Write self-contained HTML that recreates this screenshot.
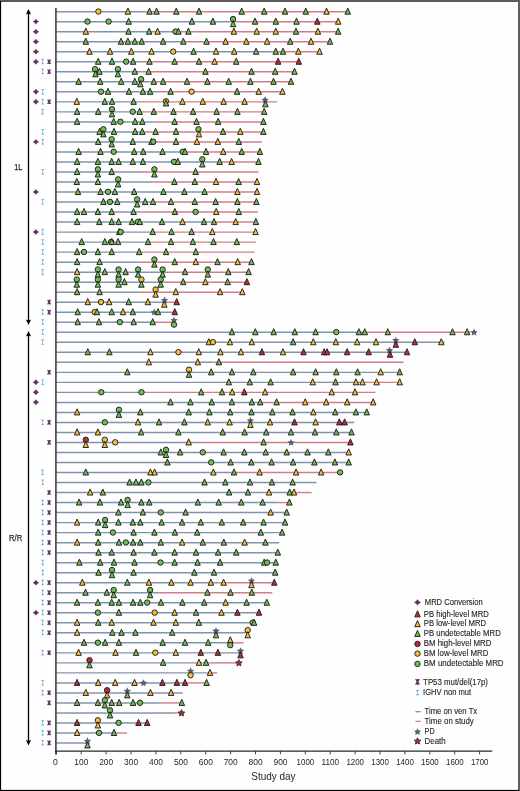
<!DOCTYPE html><html><head><meta charset="utf-8"><style>html,body{margin:0;padding:0;background:#fff;}body{width:520px;height:791px;overflow:hidden;}svg{display:block;will-change:transform;}text{font-family:"Liberation Sans",sans-serif;fill:#231f20;}</style></head><body>
<svg width="520" height="791" viewBox="0 0 520 791">
<rect x="0" y="0" width="520" height="791" fill="#fefefe"/>
<line x1="55.60" y1="11.70" x2="144.90" y2="11.70" stroke="#8294ad" stroke-width="1.45"/>
<line x1="144.90" y1="11.70" x2="347.80" y2="11.70" stroke="#cf7f8a" stroke-width="1.45"/>
<line x1="55.60" y1="21.72" x2="229.60" y2="21.72" stroke="#8294ad" stroke-width="1.45"/>
<line x1="229.60" y1="21.72" x2="338.20" y2="21.72" stroke="#cf7f8a" stroke-width="1.45"/>
<line x1="55.60" y1="31.74" x2="180.40" y2="31.74" stroke="#8294ad" stroke-width="1.45"/>
<line x1="180.40" y1="31.74" x2="338.20" y2="31.74" stroke="#cf7f8a" stroke-width="1.45"/>
<line x1="55.60" y1="41.75" x2="185.80" y2="41.75" stroke="#8294ad" stroke-width="1.45"/>
<line x1="185.80" y1="41.75" x2="330.00" y2="41.75" stroke="#cf7f8a" stroke-width="1.45"/>
<line x1="55.60" y1="51.77" x2="274.30" y2="51.77" stroke="#8294ad" stroke-width="1.45"/>
<line x1="274.30" y1="51.77" x2="319.50" y2="51.77" stroke="#cf7f8a" stroke-width="1.45"/>
<line x1="55.60" y1="61.79" x2="141.70" y2="61.79" stroke="#8294ad" stroke-width="1.45"/>
<line x1="141.70" y1="61.79" x2="300.30" y2="61.79" stroke="#cf7f8a" stroke-width="1.45"/>
<line x1="55.60" y1="71.81" x2="141.70" y2="71.81" stroke="#8294ad" stroke-width="1.45"/>
<line x1="141.70" y1="71.81" x2="296.00" y2="71.81" stroke="#cf7f8a" stroke-width="1.45"/>
<line x1="55.60" y1="81.83" x2="149.50" y2="81.83" stroke="#8294ad" stroke-width="1.45"/>
<line x1="149.50" y1="81.83" x2="293.00" y2="81.83" stroke="#cf7f8a" stroke-width="1.45"/>
<line x1="55.60" y1="91.84" x2="159.60" y2="91.84" stroke="#8294ad" stroke-width="1.45"/>
<line x1="159.60" y1="91.84" x2="284.40" y2="91.84" stroke="#cf7f8a" stroke-width="1.45"/>
<line x1="55.60" y1="101.86" x2="140.90" y2="101.86" stroke="#8294ad" stroke-width="1.45"/>
<line x1="140.90" y1="101.86" x2="277.20" y2="101.86" stroke="#cf7f8a" stroke-width="1.45"/>
<line x1="55.60" y1="111.88" x2="142.30" y2="111.88" stroke="#8294ad" stroke-width="1.45"/>
<line x1="142.30" y1="111.88" x2="264.20" y2="111.88" stroke="#cf7f8a" stroke-width="1.45"/>
<line x1="55.60" y1="121.90" x2="153.80" y2="121.90" stroke="#8294ad" stroke-width="1.45"/>
<line x1="153.80" y1="121.90" x2="263.40" y2="121.90" stroke="#cf7f8a" stroke-width="1.45"/>
<line x1="55.60" y1="131.92" x2="145.20" y2="131.92" stroke="#8294ad" stroke-width="1.45"/>
<line x1="145.20" y1="131.92" x2="263.40" y2="131.92" stroke="#cf7f8a" stroke-width="1.45"/>
<line x1="55.60" y1="141.93" x2="155.30" y2="141.93" stroke="#8294ad" stroke-width="1.45"/>
<line x1="155.30" y1="141.93" x2="261.90" y2="141.93" stroke="#cf7f8a" stroke-width="1.45"/>
<line x1="55.60" y1="151.95" x2="181.00" y2="151.95" stroke="#8294ad" stroke-width="1.45"/>
<line x1="181.00" y1="151.95" x2="259.90" y2="151.95" stroke="#cf7f8a" stroke-width="1.45"/>
<line x1="55.60" y1="161.97" x2="217.90" y2="161.97" stroke="#8294ad" stroke-width="1.45"/>
<line x1="217.90" y1="161.97" x2="258.50" y2="161.97" stroke="#cf7f8a" stroke-width="1.45"/>
<line x1="55.60" y1="171.99" x2="140.00" y2="171.99" stroke="#8294ad" stroke-width="1.45"/>
<line x1="140.00" y1="171.99" x2="258.50" y2="171.99" stroke="#cf7f8a" stroke-width="1.45"/>
<line x1="55.60" y1="182.01" x2="153.30" y2="182.01" stroke="#8294ad" stroke-width="1.45"/>
<line x1="153.30" y1="182.01" x2="257.00" y2="182.01" stroke="#cf7f8a" stroke-width="1.45"/>
<line x1="55.60" y1="192.02" x2="204.60" y2="192.02" stroke="#8294ad" stroke-width="1.45"/>
<line x1="204.60" y1="192.02" x2="257.00" y2="192.02" stroke="#cf7f8a" stroke-width="1.45"/>
<line x1="55.60" y1="202.04" x2="155.30" y2="202.04" stroke="#8294ad" stroke-width="1.45"/>
<line x1="155.30" y1="202.04" x2="256.40" y2="202.04" stroke="#cf7f8a" stroke-width="1.45"/>
<line x1="55.60" y1="212.06" x2="141.70" y2="212.06" stroke="#8294ad" stroke-width="1.45"/>
<line x1="141.70" y1="212.06" x2="257.90" y2="212.06" stroke="#cf7f8a" stroke-width="1.45"/>
<line x1="55.60" y1="222.08" x2="215.60" y2="222.08" stroke="#8294ad" stroke-width="1.45"/>
<line x1="215.60" y1="222.08" x2="255.90" y2="222.08" stroke="#cf7f8a" stroke-width="1.45"/>
<line x1="55.60" y1="232.10" x2="151.20" y2="232.10" stroke="#8294ad" stroke-width="1.45"/>
<line x1="151.20" y1="232.10" x2="255.60" y2="232.10" stroke="#cf7f8a" stroke-width="1.45"/>
<line x1="55.60" y1="242.11" x2="146.30" y2="242.11" stroke="#8294ad" stroke-width="1.45"/>
<line x1="146.30" y1="242.11" x2="256.10" y2="242.11" stroke="#cf7f8a" stroke-width="1.45"/>
<line x1="55.60" y1="252.13" x2="137.70" y2="252.13" stroke="#8294ad" stroke-width="1.45"/>
<line x1="137.70" y1="252.13" x2="254.70" y2="252.13" stroke="#cf7f8a" stroke-width="1.45"/>
<line x1="55.60" y1="262.15" x2="139.60" y2="262.15" stroke="#8294ad" stroke-width="1.45"/>
<line x1="139.60" y1="262.15" x2="251.50" y2="262.15" stroke="#cf7f8a" stroke-width="1.45"/>
<line x1="55.60" y1="272.17" x2="168.50" y2="272.17" stroke="#8294ad" stroke-width="1.45"/>
<line x1="168.50" y1="272.17" x2="248.60" y2="272.17" stroke="#cf7f8a" stroke-width="1.45"/>
<line x1="55.60" y1="282.19" x2="163.60" y2="282.19" stroke="#8294ad" stroke-width="1.45"/>
<line x1="163.60" y1="282.19" x2="246.90" y2="282.19" stroke="#cf7f8a" stroke-width="1.45"/>
<line x1="55.60" y1="292.20" x2="139.40" y2="292.20" stroke="#8294ad" stroke-width="1.45"/>
<line x1="139.40" y1="292.20" x2="242.30" y2="292.20" stroke="#cf7f8a" stroke-width="1.45"/>
<line x1="55.60" y1="302.22" x2="167.70" y2="302.22" stroke="#8294ad" stroke-width="1.45"/>
<line x1="167.70" y1="302.22" x2="176.70" y2="302.22" stroke="#cf7f8a" stroke-width="1.45"/>
<line x1="55.60" y1="312.24" x2="171.00" y2="312.24" stroke="#8294ad" stroke-width="1.45"/>
<line x1="171.00" y1="312.24" x2="174.80" y2="312.24" stroke="#cf7f8a" stroke-width="1.45"/>
<line x1="55.60" y1="322.26" x2="154.90" y2="322.26" stroke="#8294ad" stroke-width="1.45"/>
<line x1="154.90" y1="322.26" x2="173.90" y2="322.26" stroke="#cf7f8a" stroke-width="1.45"/>
<line x1="55.60" y1="332.28" x2="365.60" y2="332.28" stroke="#8294ad" stroke-width="1.45"/>
<line x1="365.60" y1="332.28" x2="470.30" y2="332.28" stroke="#cf7f8a" stroke-width="1.45"/>
<line x1="55.60" y1="342.29" x2="444.50" y2="342.29" stroke="#8294ad" stroke-width="1.45"/>
<line x1="55.60" y1="352.31" x2="406.80" y2="352.31" stroke="#8294ad" stroke-width="1.45"/>
<line x1="55.60" y1="362.33" x2="212.50" y2="362.33" stroke="#8294ad" stroke-width="1.45"/>
<line x1="212.50" y1="362.33" x2="403.50" y2="362.33" stroke="#cf7f8a" stroke-width="1.45"/>
<line x1="55.60" y1="372.35" x2="399.70" y2="372.35" stroke="#8294ad" stroke-width="1.45"/>
<line x1="55.60" y1="382.37" x2="364.50" y2="382.37" stroke="#8294ad" stroke-width="1.45"/>
<line x1="364.50" y1="382.37" x2="399.70" y2="382.37" stroke="#cf7f8a" stroke-width="1.45"/>
<line x1="55.60" y1="392.38" x2="144.40" y2="392.38" stroke="#8294ad" stroke-width="1.45"/>
<line x1="144.40" y1="392.38" x2="375.50" y2="392.38" stroke="#cf7f8a" stroke-width="1.45"/>
<line x1="55.60" y1="402.40" x2="262.80" y2="402.40" stroke="#8294ad" stroke-width="1.45"/>
<line x1="262.80" y1="402.40" x2="373.20" y2="402.40" stroke="#cf7f8a" stroke-width="1.45"/>
<line x1="55.60" y1="412.42" x2="366.80" y2="412.42" stroke="#8294ad" stroke-width="1.45"/>
<line x1="55.60" y1="422.44" x2="354.30" y2="422.44" stroke="#8294ad" stroke-width="1.45"/>
<line x1="55.60" y1="432.46" x2="351.50" y2="432.46" stroke="#8294ad" stroke-width="1.45"/>
<line x1="55.60" y1="442.47" x2="199.20" y2="442.47" stroke="#8294ad" stroke-width="1.45"/>
<line x1="199.20" y1="442.47" x2="350.40" y2="442.47" stroke="#cf7f8a" stroke-width="1.45"/>
<line x1="55.60" y1="452.49" x2="348.70" y2="452.49" stroke="#8294ad" stroke-width="1.45"/>
<line x1="55.60" y1="462.51" x2="348.70" y2="462.51" stroke="#8294ad" stroke-width="1.45"/>
<line x1="55.60" y1="472.53" x2="235.90" y2="472.53" stroke="#8294ad" stroke-width="1.45"/>
<line x1="235.90" y1="472.53" x2="340.10" y2="472.53" stroke="#cf7f8a" stroke-width="1.45"/>
<line x1="55.60" y1="482.55" x2="316.50" y2="482.55" stroke="#8294ad" stroke-width="1.45"/>
<line x1="55.60" y1="492.56" x2="295.10" y2="492.56" stroke="#8294ad" stroke-width="1.45"/>
<line x1="295.10" y1="492.56" x2="311.60" y2="492.56" stroke="#cf7f8a" stroke-width="1.45"/>
<line x1="55.60" y1="502.58" x2="278.20" y2="502.58" stroke="#8294ad" stroke-width="1.45"/>
<line x1="278.20" y1="502.58" x2="289.40" y2="502.58" stroke="#cf7f8a" stroke-width="1.45"/>
<line x1="55.60" y1="512.60" x2="286.70" y2="512.60" stroke="#8294ad" stroke-width="1.45"/>
<line x1="55.60" y1="522.62" x2="285.00" y2="522.62" stroke="#8294ad" stroke-width="1.45"/>
<line x1="55.60" y1="532.64" x2="282.10" y2="532.64" stroke="#8294ad" stroke-width="1.45"/>
<line x1="55.60" y1="542.65" x2="279.20" y2="542.65" stroke="#8294ad" stroke-width="1.45"/>
<line x1="55.60" y1="552.67" x2="277.80" y2="552.67" stroke="#8294ad" stroke-width="1.45"/>
<line x1="55.60" y1="562.69" x2="275.80" y2="562.69" stroke="#8294ad" stroke-width="1.45"/>
<line x1="55.60" y1="572.71" x2="275.20" y2="572.71" stroke="#8294ad" stroke-width="1.45"/>
<line x1="55.60" y1="582.73" x2="218.10" y2="582.73" stroke="#8294ad" stroke-width="1.45"/>
<line x1="218.10" y1="582.73" x2="274.30" y2="582.73" stroke="#cf7f8a" stroke-width="1.45"/>
<line x1="55.60" y1="592.74" x2="158.20" y2="592.74" stroke="#8294ad" stroke-width="1.45"/>
<line x1="158.20" y1="592.74" x2="272.30" y2="592.74" stroke="#cf7f8a" stroke-width="1.45"/>
<line x1="55.60" y1="602.76" x2="266.80" y2="602.76" stroke="#8294ad" stroke-width="1.45"/>
<line x1="55.60" y1="612.78" x2="259.00" y2="612.78" stroke="#8294ad" stroke-width="1.45"/>
<line x1="55.60" y1="622.80" x2="254.10" y2="622.80" stroke="#8294ad" stroke-width="1.45"/>
<line x1="55.60" y1="632.82" x2="247.70" y2="632.82" stroke="#8294ad" stroke-width="1.45"/>
<line x1="55.60" y1="642.83" x2="234.20" y2="642.83" stroke="#8294ad" stroke-width="1.45"/>
<line x1="234.20" y1="642.83" x2="243.70" y2="642.83" stroke="#cf7f8a" stroke-width="1.45"/>
<line x1="55.60" y1="652.85" x2="240.50" y2="652.85" stroke="#8294ad" stroke-width="1.45"/>
<line x1="55.60" y1="662.87" x2="210.30" y2="662.87" stroke="#8294ad" stroke-width="1.45"/>
<line x1="210.30" y1="662.87" x2="238.90" y2="662.87" stroke="#cf7f8a" stroke-width="1.45"/>
<line x1="55.60" y1="672.89" x2="211.30" y2="672.89" stroke="#8294ad" stroke-width="1.45"/>
<line x1="211.30" y1="672.89" x2="217.30" y2="672.89" stroke="#cf7f8a" stroke-width="1.45"/>
<line x1="55.60" y1="682.91" x2="187.00" y2="682.91" stroke="#8294ad" stroke-width="1.45"/>
<line x1="187.00" y1="682.91" x2="206.60" y2="682.91" stroke="#cf7f8a" stroke-width="1.45"/>
<line x1="55.60" y1="692.92" x2="182.70" y2="692.92" stroke="#8294ad" stroke-width="1.45"/>
<line x1="55.60" y1="702.94" x2="159.60" y2="702.94" stroke="#8294ad" stroke-width="1.45"/>
<line x1="159.60" y1="702.94" x2="181.80" y2="702.94" stroke="#cf7f8a" stroke-width="1.45"/>
<line x1="55.60" y1="712.96" x2="174.10" y2="712.96" stroke="#8294ad" stroke-width="1.45"/>
<line x1="174.10" y1="712.96" x2="181.50" y2="712.96" stroke="#cf7f8a" stroke-width="1.45"/>
<line x1="55.60" y1="722.98" x2="147.20" y2="722.98" stroke="#8294ad" stroke-width="1.45"/>
<line x1="55.60" y1="733.00" x2="116.30" y2="733.00" stroke="#8294ad" stroke-width="1.45"/>
<line x1="116.30" y1="733.00" x2="127.00" y2="733.00" stroke="#cf7f8a" stroke-width="1.45"/>
<line x1="55.60" y1="743.01" x2="87.50" y2="743.01" stroke="#8294ad" stroke-width="1.45"/>
<circle cx="98.40" cy="11.55" r="2.72" fill="#f5bd35" stroke="#1e1e1e" stroke-width="0.95"/>
<path d="M127.90 8.10L130.65 14.20L125.15 14.20Z" fill="#f5bd35" stroke="#1e1e1e" stroke-width="0.95" stroke-linejoin="miter"/>
<path d="M149.50 8.10L152.25 14.20L146.75 14.20Z" fill="#71bc55" stroke="#1e1e1e" stroke-width="0.95" stroke-linejoin="miter"/>
<path d="M156.50 8.10L159.25 14.20L153.75 14.20Z" fill="#71bc55" stroke="#1e1e1e" stroke-width="0.95" stroke-linejoin="miter"/>
<path d="M176.30 8.10L179.05 14.20L173.55 14.20Z" fill="#71bc55" stroke="#1e1e1e" stroke-width="0.95" stroke-linejoin="miter"/>
<path d="M199.00 8.10L201.75 14.20L196.25 14.20Z" fill="#71bc55" stroke="#1e1e1e" stroke-width="0.95" stroke-linejoin="miter"/>
<path d="M241.70 8.10L244.45 14.20L238.95 14.20Z" fill="#71bc55" stroke="#1e1e1e" stroke-width="0.95" stroke-linejoin="miter"/>
<path d="M264.20 8.10L266.95 14.20L261.45 14.20Z" fill="#71bc55" stroke="#1e1e1e" stroke-width="0.95" stroke-linejoin="miter"/>
<path d="M285.00 8.10L287.75 14.20L282.25 14.20Z" fill="#71bc55" stroke="#1e1e1e" stroke-width="0.95" stroke-linejoin="miter"/>
<path d="M305.80 8.10L308.55 14.20L303.05 14.20Z" fill="#71bc55" stroke="#1e1e1e" stroke-width="0.95" stroke-linejoin="miter"/>
<path d="M326.50 8.10L329.25 14.20L323.75 14.20Z" fill="#f5bd35" stroke="#1e1e1e" stroke-width="0.95" stroke-linejoin="miter"/>
<path d="M347.80 8.10L350.55 14.20L345.05 14.20Z" fill="#71bc55" stroke="#1e1e1e" stroke-width="0.95" stroke-linejoin="miter"/>
<circle cx="87.50" cy="21.57" r="2.72" fill="#71bc55" stroke="#1e1e1e" stroke-width="0.95"/>
<circle cx="108.60" cy="21.57" r="2.72" fill="#71bc55" stroke="#1e1e1e" stroke-width="0.95"/>
<path d="M128.70 18.12L131.45 24.22L125.95 24.22Z" fill="#71bc55" stroke="#1e1e1e" stroke-width="0.95" stroke-linejoin="miter"/>
<path d="M191.90 18.12L194.65 24.22L189.15 24.22Z" fill="#71bc55" stroke="#1e1e1e" stroke-width="0.95" stroke-linejoin="miter"/>
<path d="M212.90 18.12L215.65 24.22L210.15 24.22Z" fill="#71bc55" stroke="#1e1e1e" stroke-width="0.95" stroke-linejoin="miter"/>
<circle cx="233.10" cy="19.07" r="2.72" fill="#71bc55" stroke="#1e1e1e" stroke-width="0.95"/>
<path d="M233.10 20.62L235.85 26.72L230.35 26.72Z" fill="#71bc55" stroke="#1e1e1e" stroke-width="0.95" stroke-linejoin="miter"/>
<path d="M255.00 18.12L257.75 24.22L252.25 24.22Z" fill="#71bc55" stroke="#1e1e1e" stroke-width="0.95" stroke-linejoin="miter"/>
<path d="M275.80 18.12L278.55 24.22L273.05 24.22Z" fill="#71bc55" stroke="#1e1e1e" stroke-width="0.95" stroke-linejoin="miter"/>
<path d="M296.50 18.12L299.25 24.22L293.75 24.22Z" fill="#71bc55" stroke="#1e1e1e" stroke-width="0.95" stroke-linejoin="miter"/>
<path d="M317.30 18.12L320.05 24.22L314.55 24.22Z" fill="#bf283e" stroke="#1e1e1e" stroke-width="0.95" stroke-linejoin="miter"/>
<path d="M338.20 18.12L340.95 24.22L335.45 24.22Z" fill="#f5bd35" stroke="#1e1e1e" stroke-width="0.95" stroke-linejoin="miter"/>
<path d="M35.90 18.67Q36.85 20.67 39.10 21.62Q36.85 22.57 35.90 24.56Q34.95 22.57 32.70 21.62Q34.95 20.67 35.90 18.67Z" fill="#5f3263"/>
<path d="M85.80 28.14L88.55 34.24L83.05 34.24Z" fill="#f5bd35" stroke="#1e1e1e" stroke-width="0.95" stroke-linejoin="miter"/>
<path d="M128.50 28.14L131.25 34.24L125.75 34.24Z" fill="#71bc55" stroke="#1e1e1e" stroke-width="0.95" stroke-linejoin="miter"/>
<path d="M149.20 28.14L151.95 34.24L146.45 34.24Z" fill="#71bc55" stroke="#1e1e1e" stroke-width="0.95" stroke-linejoin="miter"/>
<path d="M157.60 28.14L160.35 34.24L154.85 34.24Z" fill="#f5bd35" stroke="#1e1e1e" stroke-width="0.95" stroke-linejoin="miter"/>
<circle cx="175.50" cy="31.59" r="2.72" fill="#71bc55" stroke="#1e1e1e" stroke-width="0.95"/>
<path d="M178.40 28.14L181.15 34.24L175.65 34.24Z" fill="#71bc55" stroke="#1e1e1e" stroke-width="0.95" stroke-linejoin="miter"/>
<path d="M188.40 28.14L191.15 34.24L185.65 34.24Z" fill="#71bc55" stroke="#1e1e1e" stroke-width="0.95" stroke-linejoin="miter"/>
<path d="M233.90 28.14L236.65 34.24L231.15 34.24Z" fill="#f5bd35" stroke="#1e1e1e" stroke-width="0.95" stroke-linejoin="miter"/>
<path d="M256.70 28.14L259.45 34.24L253.95 34.24Z" fill="#f5bd35" stroke="#1e1e1e" stroke-width="0.95" stroke-linejoin="miter"/>
<path d="M275.80 28.14L278.55 34.24L273.05 34.24Z" fill="#f5bd35" stroke="#1e1e1e" stroke-width="0.95" stroke-linejoin="miter"/>
<path d="M296.00 28.14L298.75 34.24L293.25 34.24Z" fill="#71bc55" stroke="#1e1e1e" stroke-width="0.95" stroke-linejoin="miter"/>
<path d="M317.90 28.14L320.65 34.24L315.15 34.24Z" fill="#f5bd35" stroke="#1e1e1e" stroke-width="0.95" stroke-linejoin="miter"/>
<path d="M338.20 28.14L340.95 34.24L335.45 34.24Z" fill="#71bc55" stroke="#1e1e1e" stroke-width="0.95" stroke-linejoin="miter"/>
<path d="M35.90 28.69Q36.85 30.69 39.10 31.64Q36.85 32.59 35.90 34.58Q34.95 32.59 32.70 31.64Q34.95 30.69 35.90 28.69Z" fill="#5f3263"/>
<path d="M85.80 38.15L88.55 44.25L83.05 44.25Z" fill="#71bc55" stroke="#1e1e1e" stroke-width="0.95" stroke-linejoin="miter"/>
<path d="M121.00 38.15L123.75 44.25L118.25 44.25Z" fill="#71bc55" stroke="#1e1e1e" stroke-width="0.95" stroke-linejoin="miter"/>
<path d="M127.90 38.15L130.65 44.25L125.15 44.25Z" fill="#71bc55" stroke="#1e1e1e" stroke-width="0.95" stroke-linejoin="miter"/>
<path d="M134.80 38.15L137.55 44.25L132.05 44.25Z" fill="#71bc55" stroke="#1e1e1e" stroke-width="0.95" stroke-linejoin="miter"/>
<path d="M141.70 38.15L144.45 44.25L138.95 44.25Z" fill="#71bc55" stroke="#1e1e1e" stroke-width="0.95" stroke-linejoin="miter"/>
<path d="M163.10 38.15L165.85 44.25L160.35 44.25Z" fill="#71bc55" stroke="#1e1e1e" stroke-width="0.95" stroke-linejoin="miter"/>
<path d="M183.30 38.15L186.05 44.25L180.55 44.25Z" fill="#71bc55" stroke="#1e1e1e" stroke-width="0.95" stroke-linejoin="miter"/>
<path d="M206.50 38.15L209.25 44.25L203.75 44.25Z" fill="#71bc55" stroke="#1e1e1e" stroke-width="0.95" stroke-linejoin="miter"/>
<path d="M225.60 38.15L228.35 44.25L222.85 44.25Z" fill="#f5bd35" stroke="#1e1e1e" stroke-width="0.95" stroke-linejoin="miter"/>
<path d="M246.30 38.15L249.05 44.25L243.55 44.25Z" fill="#f5bd35" stroke="#1e1e1e" stroke-width="0.95" stroke-linejoin="miter"/>
<path d="M267.10 38.15L269.85 44.25L264.35 44.25Z" fill="#f5bd35" stroke="#1e1e1e" stroke-width="0.95" stroke-linejoin="miter"/>
<path d="M290.20 38.15L292.95 44.25L287.45 44.25Z" fill="#71bc55" stroke="#1e1e1e" stroke-width="0.95" stroke-linejoin="miter"/>
<path d="M311.00 38.15L313.75 44.25L308.25 44.25Z" fill="#f5bd35" stroke="#1e1e1e" stroke-width="0.95" stroke-linejoin="miter"/>
<path d="M330.00 38.15L332.75 44.25L327.25 44.25Z" fill="#71bc55" stroke="#1e1e1e" stroke-width="0.95" stroke-linejoin="miter"/>
<path d="M35.90 38.71Q36.85 40.70 39.10 41.65Q36.85 42.60 35.90 44.60Q34.95 42.60 32.70 41.65Q34.95 40.70 35.90 38.71Z" fill="#5f3263"/>
<path d="M89.50 48.17L92.25 54.27L86.75 54.27Z" fill="#f5bd35" stroke="#1e1e1e" stroke-width="0.95" stroke-linejoin="miter"/>
<path d="M110.00 48.17L112.75 54.27L107.25 54.27Z" fill="#f5bd35" stroke="#1e1e1e" stroke-width="0.95" stroke-linejoin="miter"/>
<path d="M131.30 48.17L134.05 54.27L128.55 54.27Z" fill="#f5bd35" stroke="#1e1e1e" stroke-width="0.95" stroke-linejoin="miter"/>
<path d="M151.50 48.17L154.25 54.27L148.75 54.27Z" fill="#f5bd35" stroke="#1e1e1e" stroke-width="0.95" stroke-linejoin="miter"/>
<circle cx="173.20" cy="51.62" r="2.72" fill="#f5bd35" stroke="#1e1e1e" stroke-width="0.95"/>
<path d="M193.60 48.17L196.35 54.27L190.85 54.27Z" fill="#71bc55" stroke="#1e1e1e" stroke-width="0.95" stroke-linejoin="miter"/>
<path d="M216.00 48.17L218.75 54.27L213.25 54.27Z" fill="#f5bd35" stroke="#1e1e1e" stroke-width="0.95" stroke-linejoin="miter"/>
<path d="M234.20 48.17L236.95 54.27L231.45 54.27Z" fill="#f5bd35" stroke="#1e1e1e" stroke-width="0.95" stroke-linejoin="miter"/>
<path d="M256.10 48.17L258.85 54.27L253.35 54.27Z" fill="#71bc55" stroke="#1e1e1e" stroke-width="0.95" stroke-linejoin="miter"/>
<path d="M275.80 48.17L278.55 54.27L273.05 54.27Z" fill="#71bc55" stroke="#1e1e1e" stroke-width="0.95" stroke-linejoin="miter"/>
<path d="M283.00 48.17L285.75 54.27L280.25 54.27Z" fill="#71bc55" stroke="#1e1e1e" stroke-width="0.95" stroke-linejoin="miter"/>
<path d="M298.30 48.17L301.05 54.27L295.55 54.27Z" fill="#f5bd35" stroke="#1e1e1e" stroke-width="0.95" stroke-linejoin="miter"/>
<path d="M319.50 48.17L322.25 54.27L316.75 54.27Z" fill="#f5bd35" stroke="#1e1e1e" stroke-width="0.95" stroke-linejoin="miter"/>
<path d="M35.90 48.73Q36.85 50.72 39.10 51.67Q36.85 52.62 35.90 54.62Q34.95 52.62 32.70 51.67Q34.95 50.72 35.90 48.73Z" fill="#5f3263"/>
<path d="M98.20 58.19L100.95 64.29L95.45 64.29Z" fill="#71bc55" stroke="#1e1e1e" stroke-width="0.95" stroke-linejoin="miter"/>
<path d="M112.00 58.19L114.75 64.29L109.25 64.29Z" fill="#71bc55" stroke="#1e1e1e" stroke-width="0.95" stroke-linejoin="miter"/>
<circle cx="126.10" cy="61.64" r="2.72" fill="#71bc55" stroke="#1e1e1e" stroke-width="0.95"/>
<path d="M133.10 58.19L135.85 64.29L130.35 64.29Z" fill="#71bc55" stroke="#1e1e1e" stroke-width="0.95" stroke-linejoin="miter"/>
<path d="M149.50 58.19L152.25 64.29L146.75 64.29Z" fill="#71bc55" stroke="#1e1e1e" stroke-width="0.95" stroke-linejoin="miter"/>
<path d="M174.60 58.19L177.35 64.29L171.85 64.29Z" fill="#71bc55" stroke="#1e1e1e" stroke-width="0.95" stroke-linejoin="miter"/>
<path d="M199.00 58.19L201.75 64.29L196.25 64.29Z" fill="#71bc55" stroke="#1e1e1e" stroke-width="0.95" stroke-linejoin="miter"/>
<path d="M214.60 58.19L217.35 64.29L211.85 64.29Z" fill="#f5bd35" stroke="#1e1e1e" stroke-width="0.95" stroke-linejoin="miter"/>
<path d="M236.20 58.19L238.95 64.29L233.45 64.29Z" fill="#71bc55" stroke="#1e1e1e" stroke-width="0.95" stroke-linejoin="miter"/>
<path d="M278.10 58.19L280.85 64.29L275.35 64.29Z" fill="#bf283e" stroke="#1e1e1e" stroke-width="0.95" stroke-linejoin="miter"/>
<path d="M298.80 58.19L301.55 64.29L296.05 64.29Z" fill="#bf283e" stroke="#1e1e1e" stroke-width="0.95" stroke-linejoin="miter"/>
<path d="M35.90 58.75Q36.85 60.74 39.10 61.69Q36.85 62.64 35.90 64.63Q34.95 62.64 32.70 61.69Q34.95 60.74 35.90 58.75Z" fill="#5f3263"/>
<path d="M41.40 58.84H44.00V59.59Q43.06 59.59 43.06 60.54V62.64Q43.06 63.59 44.00 63.59V64.34H41.40V63.59Q42.34 63.59 42.34 62.64V60.54Q42.34 59.59 41.40 59.59Z" fill="#6aaddf"/>
<path d="M47.00 59.39L48.37 59.64L49.10 59.19L49.84 59.64L51.20 59.39L50.05 61.69L51.20 63.99L49.84 63.74L49.10 64.19L48.37 63.74L47.00 63.99L48.15 61.69Z" fill="#633767"/>
<circle cx="95.10" cy="69.16" r="2.72" fill="#71bc55" stroke="#1e1e1e" stroke-width="0.95"/>
<path d="M95.50 70.71L98.25 76.81L92.75 76.81Z" fill="#71bc55" stroke="#1e1e1e" stroke-width="0.95" stroke-linejoin="miter"/>
<path d="M99.40 68.21L102.15 74.31L96.65 74.31Z" fill="#71bc55" stroke="#1e1e1e" stroke-width="0.95" stroke-linejoin="miter"/>
<circle cx="117.90" cy="69.16" r="2.72" fill="#71bc55" stroke="#1e1e1e" stroke-width="0.95"/>
<path d="M117.90 70.71L120.65 76.81L115.15 76.81Z" fill="#71bc55" stroke="#1e1e1e" stroke-width="0.95" stroke-linejoin="miter"/>
<path d="M134.80 68.21L137.55 74.31L132.05 74.31Z" fill="#71bc55" stroke="#1e1e1e" stroke-width="0.95" stroke-linejoin="miter"/>
<path d="M148.60 68.21L151.35 74.31L145.85 74.31Z" fill="#71bc55" stroke="#1e1e1e" stroke-width="0.95" stroke-linejoin="miter"/>
<path d="M205.40 68.21L208.15 74.31L202.65 74.31Z" fill="#71bc55" stroke="#1e1e1e" stroke-width="0.95" stroke-linejoin="miter"/>
<path d="M251.50 68.21L254.25 74.31L248.75 74.31Z" fill="#71bc55" stroke="#1e1e1e" stroke-width="0.95" stroke-linejoin="miter"/>
<path d="M275.20 68.21L277.95 74.31L272.45 74.31Z" fill="#71bc55" stroke="#1e1e1e" stroke-width="0.95" stroke-linejoin="miter"/>
<path d="M294.50 68.21L297.25 74.31L291.75 74.31Z" fill="#71bc55" stroke="#1e1e1e" stroke-width="0.95" stroke-linejoin="miter"/>
<path d="M41.40 68.86H44.00V69.61Q43.06 69.61 43.06 70.56V72.66Q43.06 73.61 44.00 73.61V74.36H41.40V73.61Q42.34 73.61 42.34 72.66V70.56Q42.34 69.61 41.40 69.61Z" fill="#6aaddf"/>
<path d="M47.00 69.41L48.37 69.66L49.10 69.21L49.84 69.66L51.20 69.41L50.05 71.71L51.20 74.01L49.84 73.76L49.10 74.21L48.37 73.76L47.00 74.01L48.15 71.71Z" fill="#633767"/>
<path d="M78.60 78.23L81.35 84.33L75.85 84.33Z" fill="#71bc55" stroke="#1e1e1e" stroke-width="0.95" stroke-linejoin="miter"/>
<path d="M100.20 78.23L102.95 84.33L97.45 84.33Z" fill="#71bc55" stroke="#1e1e1e" stroke-width="0.95" stroke-linejoin="miter"/>
<path d="M121.20 78.23L123.95 84.33L118.45 84.33Z" fill="#71bc55" stroke="#1e1e1e" stroke-width="0.95" stroke-linejoin="miter"/>
<path d="M134.80 78.23L137.55 84.33L132.05 84.33Z" fill="#71bc55" stroke="#1e1e1e" stroke-width="0.95" stroke-linejoin="miter"/>
<circle cx="141.10" cy="79.18" r="2.72" fill="#71bc55" stroke="#1e1e1e" stroke-width="0.95"/>
<path d="M140.30 80.73L143.05 86.83L137.55 86.83Z" fill="#71bc55" stroke="#1e1e1e" stroke-width="0.95" stroke-linejoin="miter"/>
<path d="M153.80 78.23L156.55 84.33L151.05 84.33Z" fill="#71bc55" stroke="#1e1e1e" stroke-width="0.95" stroke-linejoin="miter"/>
<path d="M163.10 78.23L165.85 84.33L160.35 84.33Z" fill="#71bc55" stroke="#1e1e1e" stroke-width="0.95" stroke-linejoin="miter"/>
<path d="M187.00 78.23L189.75 84.33L184.25 84.33Z" fill="#71bc55" stroke="#1e1e1e" stroke-width="0.95" stroke-linejoin="miter"/>
<path d="M207.40 78.23L210.15 84.33L204.65 84.33Z" fill="#71bc55" stroke="#1e1e1e" stroke-width="0.95" stroke-linejoin="miter"/>
<path d="M228.70 78.23L231.45 84.33L225.95 84.33Z" fill="#71bc55" stroke="#1e1e1e" stroke-width="0.95" stroke-linejoin="miter"/>
<path d="M250.40 78.23L253.15 84.33L247.65 84.33Z" fill="#71bc55" stroke="#1e1e1e" stroke-width="0.95" stroke-linejoin="miter"/>
<path d="M273.50 78.23L276.25 84.33L270.75 84.33Z" fill="#71bc55" stroke="#1e1e1e" stroke-width="0.95" stroke-linejoin="miter"/>
<path d="M291.00 78.23L293.75 84.33L288.25 84.33Z" fill="#71bc55" stroke="#1e1e1e" stroke-width="0.95" stroke-linejoin="miter"/>
<circle cx="101.00" cy="91.69" r="2.72" fill="#71bc55" stroke="#1e1e1e" stroke-width="0.95"/>
<path d="M108.00 88.24L110.75 94.34L105.25 94.34Z" fill="#71bc55" stroke="#1e1e1e" stroke-width="0.95" stroke-linejoin="miter"/>
<path d="M129.00 88.24L131.75 94.34L126.25 94.34Z" fill="#71bc55" stroke="#1e1e1e" stroke-width="0.95" stroke-linejoin="miter"/>
<path d="M142.90 88.24L145.65 94.34L140.15 94.34Z" fill="#71bc55" stroke="#1e1e1e" stroke-width="0.95" stroke-linejoin="miter"/>
<path d="M150.10 88.24L152.85 94.34L147.35 94.34Z" fill="#71bc55" stroke="#1e1e1e" stroke-width="0.95" stroke-linejoin="miter"/>
<path d="M170.60 88.24L173.35 94.34L167.85 94.34Z" fill="#71bc55" stroke="#1e1e1e" stroke-width="0.95" stroke-linejoin="miter"/>
<circle cx="191.60" cy="91.69" r="2.72" fill="#f5bd35" stroke="#1e1e1e" stroke-width="0.95"/>
<path d="M237.10 88.24L239.85 94.34L234.35 94.34Z" fill="#71bc55" stroke="#1e1e1e" stroke-width="0.95" stroke-linejoin="miter"/>
<path d="M258.70 88.24L261.45 94.34L255.95 94.34Z" fill="#f5bd35" stroke="#1e1e1e" stroke-width="0.95" stroke-linejoin="miter"/>
<path d="M282.40 88.24L285.15 94.34L279.65 94.34Z" fill="#f5bd35" stroke="#1e1e1e" stroke-width="0.95" stroke-linejoin="miter"/>
<path d="M35.90 88.80Q36.85 90.79 39.10 91.74Q36.85 92.69 35.90 94.69Q34.95 92.69 32.70 91.74Q34.95 90.79 35.90 88.80Z" fill="#5f3263"/>
<path d="M41.40 88.89H44.00V89.64Q43.06 89.64 43.06 90.59V92.69Q43.06 93.64 44.00 93.64V94.39H41.40V93.64Q42.34 93.64 42.34 92.69V90.59Q42.34 89.64 41.40 89.64Z" fill="#6aaddf"/>
<path d="M76.80 98.26L79.55 104.36L74.05 104.36Z" fill="#f5bd35" stroke="#1e1e1e" stroke-width="0.95" stroke-linejoin="miter"/>
<path d="M104.80 98.26L107.55 104.36L102.05 104.36Z" fill="#71bc55" stroke="#1e1e1e" stroke-width="0.95" stroke-linejoin="miter"/>
<path d="M112.00 98.26L114.75 104.36L109.25 104.36Z" fill="#71bc55" stroke="#1e1e1e" stroke-width="0.95" stroke-linejoin="miter"/>
<path d="M133.60 98.26L136.35 104.36L130.85 104.36Z" fill="#71bc55" stroke="#1e1e1e" stroke-width="0.95" stroke-linejoin="miter"/>
<circle cx="166.00" cy="101.31" r="2.72" fill="#f5bd35" stroke="#1e1e1e" stroke-width="0.95"/>
<path d="M166.00 99.86L168.75 105.96L163.25 105.96Z" fill="#71bc55" stroke="#1e1e1e" stroke-width="0.95" stroke-linejoin="miter"/>
<path d="M182.40 98.26L185.15 104.36L179.65 104.36Z" fill="#f5bd35" stroke="#1e1e1e" stroke-width="0.95" stroke-linejoin="miter"/>
<path d="M202.80 98.26L205.55 104.36L200.05 104.36Z" fill="#f5bd35" stroke="#1e1e1e" stroke-width="0.95" stroke-linejoin="miter"/>
<path d="M223.60 98.26L226.35 104.36L220.85 104.36Z" fill="#f5bd35" stroke="#1e1e1e" stroke-width="0.95" stroke-linejoin="miter"/>
<path d="M244.60 98.26L247.35 104.36L241.85 104.36Z" fill="#f5bd35" stroke="#1e1e1e" stroke-width="0.95" stroke-linejoin="miter"/>
<polygon points="265.10,96.21 266.19,98.62 268.81,98.91 266.86,100.68 267.39,103.27 265.10,101.96 262.81,103.27 263.34,100.68 261.39,98.91 264.01,98.62" fill="#585e6f"/>
<path d="M265.40 100.76L268.15 106.86L262.65 106.86Z" fill="#71bc55" stroke="#1e1e1e" stroke-width="0.95" stroke-linejoin="miter"/>
<path d="M35.90 98.82Q36.85 100.81 39.10 101.76Q36.85 102.71 35.90 104.71Q34.95 102.71 32.70 101.76Q34.95 100.81 35.90 98.82Z" fill="#5f3263"/>
<path d="M41.40 98.91H44.00V99.66Q43.06 99.66 43.06 100.61V102.71Q43.06 103.66 44.00 103.66V104.41H41.40V103.66Q42.34 103.66 42.34 102.71V100.61Q42.34 99.66 41.40 99.66Z" fill="#6aaddf"/>
<path d="M47.00 99.46L48.37 99.71L49.10 99.26L49.84 99.71L51.20 99.46L50.05 101.76L51.20 104.06L49.84 103.81L49.10 104.26L48.37 103.81L47.00 104.06L48.15 101.76Z" fill="#633767"/>
<path d="M77.10 108.28L79.85 114.38L74.35 114.38Z" fill="#71bc55" stroke="#1e1e1e" stroke-width="0.95" stroke-linejoin="miter"/>
<path d="M98.20 108.28L100.95 114.38L95.45 114.38Z" fill="#71bc55" stroke="#1e1e1e" stroke-width="0.95" stroke-linejoin="miter"/>
<circle cx="112.00" cy="109.23" r="2.72" fill="#71bc55" stroke="#1e1e1e" stroke-width="0.95"/>
<path d="M112.00 110.78L114.75 116.88L109.25 116.88Z" fill="#71bc55" stroke="#1e1e1e" stroke-width="0.95" stroke-linejoin="miter"/>
<circle cx="132.80" cy="111.73" r="2.72" fill="#71bc55" stroke="#1e1e1e" stroke-width="0.95"/>
<path d="M139.70 108.28L142.45 114.38L136.95 114.38Z" fill="#71bc55" stroke="#1e1e1e" stroke-width="0.95" stroke-linejoin="miter"/>
<path d="M153.80 108.28L156.55 114.38L151.05 114.38Z" fill="#71bc55" stroke="#1e1e1e" stroke-width="0.95" stroke-linejoin="miter"/>
<path d="M173.50 108.28L176.25 114.38L170.75 114.38Z" fill="#71bc55" stroke="#1e1e1e" stroke-width="0.95" stroke-linejoin="miter"/>
<path d="M193.10 108.28L195.85 114.38L190.35 114.38Z" fill="#71bc55" stroke="#1e1e1e" stroke-width="0.95" stroke-linejoin="miter"/>
<path d="M216.60 108.28L219.35 114.38L213.85 114.38Z" fill="#71bc55" stroke="#1e1e1e" stroke-width="0.95" stroke-linejoin="miter"/>
<path d="M237.40 108.28L240.15 114.38L234.65 114.38Z" fill="#71bc55" stroke="#1e1e1e" stroke-width="0.95" stroke-linejoin="miter"/>
<path d="M264.20 108.28L266.95 114.38L261.45 114.38Z" fill="#71bc55" stroke="#1e1e1e" stroke-width="0.95" stroke-linejoin="miter"/>
<path d="M41.40 108.93H44.00V109.68Q43.06 109.68 43.06 110.63V112.73Q43.06 113.68 44.00 113.68V114.43H41.40V113.68Q42.34 113.68 42.34 112.73V110.63Q42.34 109.68 41.40 109.68Z" fill="#6aaddf"/>
<path d="M77.10 118.30L79.85 124.40L74.35 124.40Z" fill="#71bc55" stroke="#1e1e1e" stroke-width="0.95" stroke-linejoin="miter"/>
<path d="M113.70 118.30L116.45 124.40L110.95 124.40Z" fill="#71bc55" stroke="#1e1e1e" stroke-width="0.95" stroke-linejoin="miter"/>
<circle cx="120.40" cy="121.75" r="2.72" fill="#71bc55" stroke="#1e1e1e" stroke-width="0.95"/>
<path d="M135.10 118.30L137.85 124.40L132.35 124.40Z" fill="#71bc55" stroke="#1e1e1e" stroke-width="0.95" stroke-linejoin="miter"/>
<path d="M142.30 118.30L145.05 124.40L139.55 124.40Z" fill="#71bc55" stroke="#1e1e1e" stroke-width="0.95" stroke-linejoin="miter"/>
<path d="M174.60 118.30L177.35 124.40L171.85 124.40Z" fill="#71bc55" stroke="#1e1e1e" stroke-width="0.95" stroke-linejoin="miter"/>
<path d="M196.50 118.30L199.25 124.40L193.75 124.40Z" fill="#71bc55" stroke="#1e1e1e" stroke-width="0.95" stroke-linejoin="miter"/>
<path d="M218.10 118.30L220.85 124.40L215.35 124.40Z" fill="#71bc55" stroke="#1e1e1e" stroke-width="0.95" stroke-linejoin="miter"/>
<path d="M263.40 118.30L266.15 124.40L260.65 124.40Z" fill="#71bc55" stroke="#1e1e1e" stroke-width="0.95" stroke-linejoin="miter"/>
<path d="M99.60 128.32L102.35 134.42L96.85 134.42Z" fill="#71bc55" stroke="#1e1e1e" stroke-width="0.95" stroke-linejoin="miter"/>
<circle cx="103.40" cy="129.27" r="2.72" fill="#71bc55" stroke="#1e1e1e" stroke-width="0.95"/>
<path d="M103.40 130.82L106.15 136.92L100.65 136.92Z" fill="#71bc55" stroke="#1e1e1e" stroke-width="0.95" stroke-linejoin="miter"/>
<path d="M114.00 128.32L116.75 134.42L111.25 134.42Z" fill="#71bc55" stroke="#1e1e1e" stroke-width="0.95" stroke-linejoin="miter"/>
<path d="M135.10 128.32L137.85 134.42L132.35 134.42Z" fill="#71bc55" stroke="#1e1e1e" stroke-width="0.95" stroke-linejoin="miter"/>
<path d="M142.30 128.32L145.05 134.42L139.55 134.42Z" fill="#71bc55" stroke="#1e1e1e" stroke-width="0.95" stroke-linejoin="miter"/>
<path d="M155.60 128.32L158.35 134.42L152.85 134.42Z" fill="#71bc55" stroke="#1e1e1e" stroke-width="0.95" stroke-linejoin="miter"/>
<path d="M176.00 128.32L178.75 134.42L173.25 134.42Z" fill="#71bc55" stroke="#1e1e1e" stroke-width="0.95" stroke-linejoin="miter"/>
<circle cx="198.50" cy="129.27" r="2.72" fill="#71bc55" stroke="#1e1e1e" stroke-width="0.95"/>
<path d="M199.00 130.82L201.75 136.92L196.25 136.92Z" fill="#f5bd35" stroke="#1e1e1e" stroke-width="0.95" stroke-linejoin="miter"/>
<path d="M223.00 128.32L225.75 134.42L220.25 134.42Z" fill="#71bc55" stroke="#1e1e1e" stroke-width="0.95" stroke-linejoin="miter"/>
<path d="M240.30 128.32L243.05 134.42L237.55 134.42Z" fill="#f5bd35" stroke="#1e1e1e" stroke-width="0.95" stroke-linejoin="miter"/>
<path d="M263.40 128.32L266.15 134.42L260.65 134.42Z" fill="#71bc55" stroke="#1e1e1e" stroke-width="0.95" stroke-linejoin="miter"/>
<path d="M41.40 128.97H44.00V129.72Q43.06 129.72 43.06 130.67V132.77Q43.06 133.72 44.00 133.72V134.47H41.40V133.72Q42.34 133.72 42.34 132.77V130.67Q42.34 129.72 41.40 129.72Z" fill="#6aaddf"/>
<path d="M98.20 138.33L100.95 144.43L95.45 144.43Z" fill="#71bc55" stroke="#1e1e1e" stroke-width="0.95" stroke-linejoin="miter"/>
<circle cx="111.70" cy="139.28" r="2.72" fill="#71bc55" stroke="#1e1e1e" stroke-width="0.95"/>
<path d="M111.70 140.83L114.45 146.93L108.95 146.93Z" fill="#71bc55" stroke="#1e1e1e" stroke-width="0.95" stroke-linejoin="miter"/>
<path d="M132.80 138.33L135.55 144.43L130.05 144.43Z" fill="#71bc55" stroke="#1e1e1e" stroke-width="0.95" stroke-linejoin="miter"/>
<path d="M151.50 138.33L154.25 144.43L148.75 144.43Z" fill="#71bc55" stroke="#1e1e1e" stroke-width="0.95" stroke-linejoin="miter"/>
<circle cx="153.30" cy="141.78" r="2.72" fill="#71bc55" stroke="#1e1e1e" stroke-width="0.95"/>
<path d="M176.00 138.33L178.75 144.43L173.25 144.43Z" fill="#71bc55" stroke="#1e1e1e" stroke-width="0.95" stroke-linejoin="miter"/>
<path d="M196.90 138.33L199.65 144.43L194.15 144.43Z" fill="#f5bd35" stroke="#1e1e1e" stroke-width="0.95" stroke-linejoin="miter"/>
<path d="M217.80 138.33L220.55 144.43L215.05 144.43Z" fill="#f5bd35" stroke="#1e1e1e" stroke-width="0.95" stroke-linejoin="miter"/>
<path d="M238.80 138.33L241.55 144.43L236.05 144.43Z" fill="#71bc55" stroke="#1e1e1e" stroke-width="0.95" stroke-linejoin="miter"/>
<path d="M35.90 138.89Q36.85 140.88 39.10 141.83Q36.85 142.78 35.90 144.78Q34.95 142.78 32.70 141.83Q34.95 140.88 35.90 138.89Z" fill="#5f3263"/>
<path d="M41.40 138.98H44.00V139.73Q43.06 139.73 43.06 140.68V142.78Q43.06 143.73 44.00 143.73V144.48H41.40V143.73Q42.34 143.73 42.34 142.78V140.68Q42.34 139.73 41.40 139.73Z" fill="#6aaddf"/>
<path d="M78.60 148.35L81.35 154.45L75.85 154.45Z" fill="#71bc55" stroke="#1e1e1e" stroke-width="0.95" stroke-linejoin="miter"/>
<path d="M100.50 148.35L103.25 154.45L97.75 154.45Z" fill="#71bc55" stroke="#1e1e1e" stroke-width="0.95" stroke-linejoin="miter"/>
<circle cx="113.70" cy="151.80" r="2.72" fill="#71bc55" stroke="#1e1e1e" stroke-width="0.95"/>
<path d="M134.20 148.35L136.95 154.45L131.45 154.45Z" fill="#71bc55" stroke="#1e1e1e" stroke-width="0.95" stroke-linejoin="miter"/>
<path d="M143.20 148.35L145.95 154.45L140.45 154.45Z" fill="#71bc55" stroke="#1e1e1e" stroke-width="0.95" stroke-linejoin="miter"/>
<path d="M162.50 148.35L165.25 154.45L159.75 154.45Z" fill="#71bc55" stroke="#1e1e1e" stroke-width="0.95" stroke-linejoin="miter"/>
<circle cx="182.70" cy="151.80" r="2.72" fill="#71bc55" stroke="#1e1e1e" stroke-width="0.95"/>
<path d="M185.00 148.35L187.75 154.45L182.25 154.45Z" fill="#71bc55" stroke="#1e1e1e" stroke-width="0.95" stroke-linejoin="miter"/>
<path d="M206.00 148.35L208.75 154.45L203.25 154.45Z" fill="#71bc55" stroke="#1e1e1e" stroke-width="0.95" stroke-linejoin="miter"/>
<path d="M223.20 148.35L225.95 154.45L220.45 154.45Z" fill="#f5bd35" stroke="#1e1e1e" stroke-width="0.95" stroke-linejoin="miter"/>
<path d="M241.70 148.35L244.45 154.45L238.95 154.45Z" fill="#71bc55" stroke="#1e1e1e" stroke-width="0.95" stroke-linejoin="miter"/>
<path d="M259.90 148.35L262.65 154.45L257.15 154.45Z" fill="#71bc55" stroke="#1e1e1e" stroke-width="0.95" stroke-linejoin="miter"/>
<path d="M77.10 158.37L79.85 164.47L74.35 164.47Z" fill="#71bc55" stroke="#1e1e1e" stroke-width="0.95" stroke-linejoin="miter"/>
<path d="M97.90 158.37L100.65 164.47L95.15 164.47Z" fill="#71bc55" stroke="#1e1e1e" stroke-width="0.95" stroke-linejoin="miter"/>
<path d="M111.70 158.37L114.45 164.47L108.95 164.47Z" fill="#71bc55" stroke="#1e1e1e" stroke-width="0.95" stroke-linejoin="miter"/>
<path d="M118.60 158.37L121.35 164.47L115.85 164.47Z" fill="#71bc55" stroke="#1e1e1e" stroke-width="0.95" stroke-linejoin="miter"/>
<path d="M132.80 158.37L135.55 164.47L130.05 164.47Z" fill="#71bc55" stroke="#1e1e1e" stroke-width="0.95" stroke-linejoin="miter"/>
<path d="M142.90 158.37L145.65 164.47L140.15 164.47Z" fill="#71bc55" stroke="#1e1e1e" stroke-width="0.95" stroke-linejoin="miter"/>
<circle cx="174.00" cy="161.82" r="2.72" fill="#71bc55" stroke="#1e1e1e" stroke-width="0.95"/>
<path d="M177.80 158.37L180.55 164.47L175.05 164.47Z" fill="#71bc55" stroke="#1e1e1e" stroke-width="0.95" stroke-linejoin="miter"/>
<circle cx="202.30" cy="159.32" r="2.72" fill="#71bc55" stroke="#1e1e1e" stroke-width="0.95"/>
<path d="M202.30 160.87L205.05 166.97L199.55 166.97Z" fill="#71bc55" stroke="#1e1e1e" stroke-width="0.95" stroke-linejoin="miter"/>
<path d="M219.60 158.37L222.35 164.47L216.85 164.47Z" fill="#71bc55" stroke="#1e1e1e" stroke-width="0.95" stroke-linejoin="miter"/>
<path d="M231.60 158.37L234.35 164.47L228.85 164.47Z" fill="#f5bd35" stroke="#1e1e1e" stroke-width="0.95" stroke-linejoin="miter"/>
<path d="M258.50 158.37L261.25 164.47L255.75 164.47Z" fill="#71bc55" stroke="#1e1e1e" stroke-width="0.95" stroke-linejoin="miter"/>
<path d="M77.10 168.39L79.85 174.49L74.35 174.49Z" fill="#71bc55" stroke="#1e1e1e" stroke-width="0.95" stroke-linejoin="miter"/>
<circle cx="97.90" cy="169.34" r="2.72" fill="#71bc55" stroke="#1e1e1e" stroke-width="0.95"/>
<path d="M97.90 170.89L100.65 176.99L95.15 176.99Z" fill="#71bc55" stroke="#1e1e1e" stroke-width="0.95" stroke-linejoin="miter"/>
<path d="M111.70 168.39L114.45 174.49L108.95 174.49Z" fill="#71bc55" stroke="#1e1e1e" stroke-width="0.95" stroke-linejoin="miter"/>
<circle cx="154.40" cy="169.34" r="2.72" fill="#71bc55" stroke="#1e1e1e" stroke-width="0.95"/>
<path d="M154.40 170.89L157.15 176.99L151.65 176.99Z" fill="#71bc55" stroke="#1e1e1e" stroke-width="0.95" stroke-linejoin="miter"/>
<path d="M195.60 168.39L198.35 174.49L192.85 174.49Z" fill="#71bc55" stroke="#1e1e1e" stroke-width="0.95" stroke-linejoin="miter"/>
<path d="M41.40 169.04H44.00V169.79Q43.06 169.79 43.06 170.74V172.84Q43.06 173.79 44.00 173.79V174.54H41.40V173.79Q42.34 173.79 42.34 172.84V170.74Q42.34 169.79 41.40 169.79Z" fill="#6aaddf"/>
<path d="M76.80 178.41L79.55 184.51L74.05 184.51Z" fill="#71bc55" stroke="#1e1e1e" stroke-width="0.95" stroke-linejoin="miter"/>
<path d="M97.90 178.41L100.65 184.51L95.15 184.51Z" fill="#71bc55" stroke="#1e1e1e" stroke-width="0.95" stroke-linejoin="miter"/>
<circle cx="118.10" cy="179.36" r="2.72" fill="#71bc55" stroke="#1e1e1e" stroke-width="0.95"/>
<path d="M118.10 180.91L120.85 187.01L115.35 187.01Z" fill="#71bc55" stroke="#1e1e1e" stroke-width="0.95" stroke-linejoin="miter"/>
<path d="M174.40 178.41L177.15 184.51L171.65 184.51Z" fill="#71bc55" stroke="#1e1e1e" stroke-width="0.95" stroke-linejoin="miter"/>
<path d="M194.80 178.41L197.55 184.51L192.05 184.51Z" fill="#71bc55" stroke="#1e1e1e" stroke-width="0.95" stroke-linejoin="miter"/>
<path d="M216.00 178.41L218.75 184.51L213.25 184.51Z" fill="#f5bd35" stroke="#1e1e1e" stroke-width="0.95" stroke-linejoin="miter"/>
<path d="M238.60 178.41L241.35 184.51L235.85 184.51Z" fill="#71bc55" stroke="#1e1e1e" stroke-width="0.95" stroke-linejoin="miter"/>
<path d="M257.00 178.41L259.75 184.51L254.25 184.51Z" fill="#f5bd35" stroke="#1e1e1e" stroke-width="0.95" stroke-linejoin="miter"/>
<path d="M78.00 188.42L80.75 194.52L75.25 194.52Z" fill="#71bc55" stroke="#1e1e1e" stroke-width="0.95" stroke-linejoin="miter"/>
<path d="M100.50 188.42L103.25 194.52L97.75 194.52Z" fill="#71bc55" stroke="#1e1e1e" stroke-width="0.95" stroke-linejoin="miter"/>
<circle cx="108.00" cy="191.87" r="2.72" fill="#71bc55" stroke="#1e1e1e" stroke-width="0.95"/>
<path d="M114.90 188.42L117.65 194.52L112.15 194.52Z" fill="#71bc55" stroke="#1e1e1e" stroke-width="0.95" stroke-linejoin="miter"/>
<path d="M134.20 188.42L136.95 194.52L131.45 194.52Z" fill="#71bc55" stroke="#1e1e1e" stroke-width="0.95" stroke-linejoin="miter"/>
<path d="M163.40 188.42L166.15 194.52L160.65 194.52Z" fill="#71bc55" stroke="#1e1e1e" stroke-width="0.95" stroke-linejoin="miter"/>
<path d="M184.40 188.42L187.15 194.52L181.65 194.52Z" fill="#71bc55" stroke="#1e1e1e" stroke-width="0.95" stroke-linejoin="miter"/>
<path d="M204.60 188.42L207.35 194.52L201.85 194.52Z" fill="#71bc55" stroke="#1e1e1e" stroke-width="0.95" stroke-linejoin="miter"/>
<path d="M237.40 188.42L240.15 194.52L234.65 194.52Z" fill="#f5bd35" stroke="#1e1e1e" stroke-width="0.95" stroke-linejoin="miter"/>
<path d="M257.00 188.42L259.75 194.52L254.25 194.52Z" fill="#f5bd35" stroke="#1e1e1e" stroke-width="0.95" stroke-linejoin="miter"/>
<path d="M35.90 188.98Q36.85 190.97 39.10 191.92Q36.85 192.87 35.90 194.87Q34.95 192.87 32.70 191.92Q34.95 190.97 35.90 188.98Z" fill="#5f3263"/>
<path d="M103.40 198.44L106.15 204.54L100.65 204.54Z" fill="#71bc55" stroke="#1e1e1e" stroke-width="0.95" stroke-linejoin="miter"/>
<circle cx="110.00" cy="201.89" r="2.72" fill="#71bc55" stroke="#1e1e1e" stroke-width="0.95"/>
<path d="M117.20 198.44L119.95 204.54L114.45 204.54Z" fill="#71bc55" stroke="#1e1e1e" stroke-width="0.95" stroke-linejoin="miter"/>
<circle cx="137.10" cy="199.39" r="2.72" fill="#71bc55" stroke="#1e1e1e" stroke-width="0.95"/>
<path d="M137.10 200.94L139.85 207.04L134.35 207.04Z" fill="#71bc55" stroke="#1e1e1e" stroke-width="0.95" stroke-linejoin="miter"/>
<path d="M145.20 198.44L147.95 204.54L142.45 204.54Z" fill="#71bc55" stroke="#1e1e1e" stroke-width="0.95" stroke-linejoin="miter"/>
<path d="M153.00 198.44L155.75 204.54L150.25 204.54Z" fill="#71bc55" stroke="#1e1e1e" stroke-width="0.95" stroke-linejoin="miter"/>
<path d="M171.00 198.44L173.75 204.54L168.25 204.54Z" fill="#71bc55" stroke="#1e1e1e" stroke-width="0.95" stroke-linejoin="miter"/>
<path d="M194.80 198.44L197.55 204.54L192.05 204.54Z" fill="#71bc55" stroke="#1e1e1e" stroke-width="0.95" stroke-linejoin="miter"/>
<path d="M215.60 198.44L218.35 204.54L212.85 204.54Z" fill="#71bc55" stroke="#1e1e1e" stroke-width="0.95" stroke-linejoin="miter"/>
<path d="M237.40 198.44L240.15 204.54L234.65 204.54Z" fill="#71bc55" stroke="#1e1e1e" stroke-width="0.95" stroke-linejoin="miter"/>
<path d="M256.40 198.44L259.15 204.54L253.65 204.54Z" fill="#71bc55" stroke="#1e1e1e" stroke-width="0.95" stroke-linejoin="miter"/>
<path d="M41.40 199.09H44.00V199.84Q43.06 199.84 43.06 200.79V202.89Q43.06 203.84 44.00 203.84V204.59H41.40V203.84Q42.34 203.84 42.34 202.89V200.79Q42.34 199.84 41.40 199.84Z" fill="#6aaddf"/>
<path d="M77.10 208.46L79.85 214.56L74.35 214.56Z" fill="#71bc55" stroke="#1e1e1e" stroke-width="0.95" stroke-linejoin="miter"/>
<path d="M84.00 208.46L86.75 214.56L81.25 214.56Z" fill="#71bc55" stroke="#1e1e1e" stroke-width="0.95" stroke-linejoin="miter"/>
<path d="M97.90 208.46L100.65 214.56L95.15 214.56Z" fill="#71bc55" stroke="#1e1e1e" stroke-width="0.95" stroke-linejoin="miter"/>
<path d="M111.70 208.46L114.45 214.56L108.95 214.56Z" fill="#71bc55" stroke="#1e1e1e" stroke-width="0.95" stroke-linejoin="miter"/>
<path d="M133.60 208.46L136.35 214.56L130.85 214.56Z" fill="#71bc55" stroke="#1e1e1e" stroke-width="0.95" stroke-linejoin="miter"/>
<path d="M174.90 208.46L177.65 214.56L172.15 214.56Z" fill="#71bc55" stroke="#1e1e1e" stroke-width="0.95" stroke-linejoin="miter"/>
<circle cx="195.60" cy="211.91" r="2.72" fill="#71bc55" stroke="#1e1e1e" stroke-width="0.95"/>
<path d="M216.20 208.46L218.95 214.56L213.45 214.56Z" fill="#f5bd35" stroke="#1e1e1e" stroke-width="0.95" stroke-linejoin="miter"/>
<path d="M238.80 208.46L241.55 214.56L236.05 214.56Z" fill="#71bc55" stroke="#1e1e1e" stroke-width="0.95" stroke-linejoin="miter"/>
<path d="M77.10 218.48L79.85 224.58L74.35 224.58Z" fill="#71bc55" stroke="#1e1e1e" stroke-width="0.95" stroke-linejoin="miter"/>
<path d="M99.30 218.48L102.05 224.58L96.55 224.58Z" fill="#71bc55" stroke="#1e1e1e" stroke-width="0.95" stroke-linejoin="miter"/>
<path d="M111.70 218.48L114.45 224.58L108.95 224.58Z" fill="#71bc55" stroke="#1e1e1e" stroke-width="0.95" stroke-linejoin="miter"/>
<path d="M118.60 218.48L121.35 224.58L115.85 224.58Z" fill="#71bc55" stroke="#1e1e1e" stroke-width="0.95" stroke-linejoin="miter"/>
<path d="M132.00 218.48L134.75 224.58L129.25 224.58Z" fill="#71bc55" stroke="#1e1e1e" stroke-width="0.95" stroke-linejoin="miter"/>
<circle cx="137.80" cy="221.93" r="2.72" fill="#71bc55" stroke="#1e1e1e" stroke-width="0.95"/>
<path d="M139.80 218.48L142.55 224.58L137.05 224.58Z" fill="#71bc55" stroke="#1e1e1e" stroke-width="0.95" stroke-linejoin="miter"/>
<path d="M162.00 218.48L164.75 224.58L159.25 224.58Z" fill="#71bc55" stroke="#1e1e1e" stroke-width="0.95" stroke-linejoin="miter"/>
<path d="M182.50 218.48L185.25 224.58L179.75 224.58Z" fill="#f5bd35" stroke="#1e1e1e" stroke-width="0.95" stroke-linejoin="miter"/>
<path d="M204.00 218.48L206.75 224.58L201.25 224.58Z" fill="#71bc55" stroke="#1e1e1e" stroke-width="0.95" stroke-linejoin="miter"/>
<path d="M214.00 218.48L216.75 224.58L211.25 224.58Z" fill="#71bc55" stroke="#1e1e1e" stroke-width="0.95" stroke-linejoin="miter"/>
<path d="M235.70 218.48L238.45 224.58L232.95 224.58Z" fill="#f5bd35" stroke="#1e1e1e" stroke-width="0.95" stroke-linejoin="miter"/>
<path d="M255.90 218.48L258.65 224.58L253.15 224.58Z" fill="#71bc55" stroke="#1e1e1e" stroke-width="0.95" stroke-linejoin="miter"/>
<path d="M119.20 228.50L121.95 234.60L116.45 234.60Z" fill="#71bc55" stroke="#1e1e1e" stroke-width="0.95" stroke-linejoin="miter"/>
<circle cx="120.70" cy="231.95" r="2.72" fill="#71bc55" stroke="#1e1e1e" stroke-width="0.95"/>
<path d="M152.70 228.50L155.45 234.60L149.95 234.60Z" fill="#71bc55" stroke="#1e1e1e" stroke-width="0.95" stroke-linejoin="miter"/>
<path d="M171.50 228.50L174.25 234.60L168.75 234.60Z" fill="#71bc55" stroke="#1e1e1e" stroke-width="0.95" stroke-linejoin="miter"/>
<path d="M191.60 228.50L194.35 234.60L188.85 234.60Z" fill="#71bc55" stroke="#1e1e1e" stroke-width="0.95" stroke-linejoin="miter"/>
<path d="M212.30 228.50L215.05 234.60L209.55 234.60Z" fill="#f5bd35" stroke="#1e1e1e" stroke-width="0.95" stroke-linejoin="miter"/>
<path d="M255.60 228.50L258.35 234.60L252.85 234.60Z" fill="#f5bd35" stroke="#1e1e1e" stroke-width="0.95" stroke-linejoin="miter"/>
<path d="M35.90 229.05Q36.85 231.05 39.10 232.00Q36.85 232.95 35.90 234.94Q34.95 232.95 32.70 232.00Q34.95 231.05 35.90 229.05Z" fill="#5f3263"/>
<path d="M41.40 229.15H44.00V229.90Q43.06 229.90 43.06 230.85V232.95Q43.06 233.90 44.00 233.90V234.65H41.40V233.90Q42.34 233.90 42.34 232.95V230.85Q42.34 229.90 41.40 229.90Z" fill="#6aaddf"/>
<path d="M81.70 238.51L84.45 244.61L78.95 244.61Z" fill="#71bc55" stroke="#1e1e1e" stroke-width="0.95" stroke-linejoin="miter"/>
<path d="M104.80 238.51L107.55 244.61L102.05 244.61Z" fill="#71bc55" stroke="#1e1e1e" stroke-width="0.95" stroke-linejoin="miter"/>
<circle cx="111.10" cy="241.96" r="2.72" fill="#71bc55" stroke="#1e1e1e" stroke-width="0.95"/>
<path d="M111.70 238.51L114.45 244.61L108.95 244.61Z" fill="#71bc55" stroke="#1e1e1e" stroke-width="0.95" stroke-linejoin="miter"/>
<path d="M118.10 238.51L120.85 244.61L115.35 244.61Z" fill="#71bc55" stroke="#1e1e1e" stroke-width="0.95" stroke-linejoin="miter"/>
<path d="M148.00 238.51L150.75 244.61L145.25 244.61Z" fill="#71bc55" stroke="#1e1e1e" stroke-width="0.95" stroke-linejoin="miter"/>
<path d="M171.00 238.51L173.75 244.61L168.25 244.61Z" fill="#71bc55" stroke="#1e1e1e" stroke-width="0.95" stroke-linejoin="miter"/>
<path d="M192.90 238.51L195.65 244.61L190.15 244.61Z" fill="#71bc55" stroke="#1e1e1e" stroke-width="0.95" stroke-linejoin="miter"/>
<path d="M213.50 238.51L216.25 244.61L210.75 244.61Z" fill="#71bc55" stroke="#1e1e1e" stroke-width="0.95" stroke-linejoin="miter"/>
<path d="M236.80 238.51L239.55 244.61L234.05 244.61Z" fill="#71bc55" stroke="#1e1e1e" stroke-width="0.95" stroke-linejoin="miter"/>
<path d="M41.40 239.16H44.00V239.91Q43.06 239.91 43.06 240.86V242.96Q43.06 243.91 44.00 243.91V244.66H41.40V243.91Q42.34 243.91 42.34 242.96V240.86Q42.34 239.91 41.40 239.91Z" fill="#6aaddf"/>
<path d="M77.10 248.53L79.85 254.63L74.35 254.63Z" fill="#71bc55" stroke="#1e1e1e" stroke-width="0.95" stroke-linejoin="miter"/>
<circle cx="84.00" cy="251.98" r="2.72" fill="#71bc55" stroke="#1e1e1e" stroke-width="0.95"/>
<path d="M97.90 248.53L100.65 254.63L95.15 254.63Z" fill="#71bc55" stroke="#1e1e1e" stroke-width="0.95" stroke-linejoin="miter"/>
<path d="M111.70 248.53L114.45 254.63L108.95 254.63Z" fill="#71bc55" stroke="#1e1e1e" stroke-width="0.95" stroke-linejoin="miter"/>
<path d="M139.20 248.53L141.95 254.63L136.45 254.63Z" fill="#71bc55" stroke="#1e1e1e" stroke-width="0.95" stroke-linejoin="miter"/>
<path d="M166.00 248.53L168.75 254.63L163.25 254.63Z" fill="#71bc55" stroke="#1e1e1e" stroke-width="0.95" stroke-linejoin="miter"/>
<path d="M195.80 248.53L198.55 254.63L193.05 254.63Z" fill="#71bc55" stroke="#1e1e1e" stroke-width="0.95" stroke-linejoin="miter"/>
<path d="M41.40 249.18H44.00V249.93Q43.06 249.93 43.06 250.88V252.98Q43.06 253.93 44.00 253.93V254.68H41.40V253.93Q42.34 253.93 42.34 252.98V250.88Q42.34 249.93 41.40 249.93Z" fill="#6aaddf"/>
<path d="M77.10 258.55L79.85 264.65L74.35 264.65Z" fill="#71bc55" stroke="#1e1e1e" stroke-width="0.95" stroke-linejoin="miter"/>
<path d="M99.60 258.55L102.35 264.65L96.85 264.65Z" fill="#71bc55" stroke="#1e1e1e" stroke-width="0.95" stroke-linejoin="miter"/>
<circle cx="154.40" cy="259.50" r="2.72" fill="#71bc55" stroke="#1e1e1e" stroke-width="0.95"/>
<path d="M154.40 261.05L157.15 267.15L151.65 267.15Z" fill="#71bc55" stroke="#1e1e1e" stroke-width="0.95" stroke-linejoin="miter"/>
<path d="M174.70 258.55L177.45 264.65L171.95 264.65Z" fill="#71bc55" stroke="#1e1e1e" stroke-width="0.95" stroke-linejoin="miter"/>
<path d="M195.80 258.55L198.55 264.65L193.05 264.65Z" fill="#f5bd35" stroke="#1e1e1e" stroke-width="0.95" stroke-linejoin="miter"/>
<path d="M217.50 258.55L220.25 264.65L214.75 264.65Z" fill="#71bc55" stroke="#1e1e1e" stroke-width="0.95" stroke-linejoin="miter"/>
<path d="M237.70 258.55L240.45 264.65L234.95 264.65Z" fill="#f5bd35" stroke="#1e1e1e" stroke-width="0.95" stroke-linejoin="miter"/>
<path d="M251.50 258.55L254.25 264.65L248.75 264.65Z" fill="#71bc55" stroke="#1e1e1e" stroke-width="0.95" stroke-linejoin="miter"/>
<path d="M41.40 259.20H44.00V259.95Q43.06 259.95 43.06 260.90V263.00Q43.06 263.95 44.00 263.95V264.70H41.40V263.95Q42.34 263.95 42.34 263.00V260.90Q42.34 259.95 41.40 259.95Z" fill="#6aaddf"/>
<path d="M77.10 268.57L79.85 274.67L74.35 274.67Z" fill="#f5bd35" stroke="#1e1e1e" stroke-width="0.95" stroke-linejoin="miter"/>
<circle cx="97.90" cy="269.52" r="2.72" fill="#71bc55" stroke="#1e1e1e" stroke-width="0.95"/>
<path d="M97.90 271.07L100.65 277.17L95.15 277.17Z" fill="#71bc55" stroke="#1e1e1e" stroke-width="0.95" stroke-linejoin="miter"/>
<path d="M104.80 268.57L107.55 274.67L102.05 274.67Z" fill="#71bc55" stroke="#1e1e1e" stroke-width="0.95" stroke-linejoin="miter"/>
<circle cx="118.60" cy="269.52" r="2.72" fill="#71bc55" stroke="#1e1e1e" stroke-width="0.95"/>
<path d="M118.60 271.07L121.35 277.17L115.85 277.17Z" fill="#71bc55" stroke="#1e1e1e" stroke-width="0.95" stroke-linejoin="miter"/>
<path d="M125.60 268.57L128.35 274.67L122.85 274.67Z" fill="#71bc55" stroke="#1e1e1e" stroke-width="0.95" stroke-linejoin="miter"/>
<circle cx="138.10" cy="269.52" r="2.72" fill="#71bc55" stroke="#1e1e1e" stroke-width="0.95"/>
<path d="M138.10 271.07L140.85 277.17L135.35 277.17Z" fill="#71bc55" stroke="#1e1e1e" stroke-width="0.95" stroke-linejoin="miter"/>
<circle cx="162.60" cy="269.52" r="2.72" fill="#71bc55" stroke="#1e1e1e" stroke-width="0.95"/>
<path d="M162.60 271.07L165.35 277.17L159.85 277.17Z" fill="#71bc55" stroke="#1e1e1e" stroke-width="0.95" stroke-linejoin="miter"/>
<path d="M185.00 268.57L187.75 274.67L182.25 274.67Z" fill="#71bc55" stroke="#1e1e1e" stroke-width="0.95" stroke-linejoin="miter"/>
<circle cx="207.80" cy="269.52" r="2.72" fill="#71bc55" stroke="#1e1e1e" stroke-width="0.95"/>
<path d="M207.80 271.07L210.55 277.17L205.05 277.17Z" fill="#71bc55" stroke="#1e1e1e" stroke-width="0.95" stroke-linejoin="miter"/>
<path d="M228.30 268.57L231.05 274.67L225.55 274.67Z" fill="#71bc55" stroke="#1e1e1e" stroke-width="0.95" stroke-linejoin="miter"/>
<path d="M248.60 268.57L251.35 274.67L245.85 274.67Z" fill="#71bc55" stroke="#1e1e1e" stroke-width="0.95" stroke-linejoin="miter"/>
<path d="M41.40 269.22H44.00V269.97Q43.06 269.97 43.06 270.92V273.02Q43.06 273.97 44.00 273.97V274.72H41.40V273.97Q42.34 273.97 42.34 273.02V270.92Q42.34 269.97 41.40 269.97Z" fill="#6aaddf"/>
<circle cx="76.80" cy="279.54" r="2.72" fill="#71bc55" stroke="#1e1e1e" stroke-width="0.95"/>
<path d="M76.80 281.09L79.55 287.19L74.05 287.19Z" fill="#71bc55" stroke="#1e1e1e" stroke-width="0.95" stroke-linejoin="miter"/>
<circle cx="97.90" cy="279.54" r="2.72" fill="#71bc55" stroke="#1e1e1e" stroke-width="0.95"/>
<path d="M97.90 281.09L100.65 287.19L95.15 287.19Z" fill="#71bc55" stroke="#1e1e1e" stroke-width="0.95" stroke-linejoin="miter"/>
<circle cx="118.60" cy="279.54" r="2.72" fill="#71bc55" stroke="#1e1e1e" stroke-width="0.95"/>
<path d="M118.60 281.09L121.35 287.19L115.85 287.19Z" fill="#71bc55" stroke="#1e1e1e" stroke-width="0.95" stroke-linejoin="miter"/>
<path d="M124.40 278.59L127.15 284.69L121.65 284.69Z" fill="#71bc55" stroke="#1e1e1e" stroke-width="0.95" stroke-linejoin="miter"/>
<circle cx="141.40" cy="279.54" r="2.72" fill="#f5bd35" stroke="#1e1e1e" stroke-width="0.95"/>
<path d="M141.40 281.09L144.15 287.19L138.65 287.19Z" fill="#71bc55" stroke="#1e1e1e" stroke-width="0.95" stroke-linejoin="miter"/>
<circle cx="160.70" cy="279.54" r="2.72" fill="#71bc55" stroke="#1e1e1e" stroke-width="0.95"/>
<path d="M160.70 281.09L163.45 287.19L157.95 287.19Z" fill="#71bc55" stroke="#1e1e1e" stroke-width="0.95" stroke-linejoin="miter"/>
<path d="M183.20 278.59L185.95 284.69L180.45 284.69Z" fill="#71bc55" stroke="#1e1e1e" stroke-width="0.95" stroke-linejoin="miter"/>
<path d="M205.40 278.59L208.15 284.69L202.65 284.69Z" fill="#f5bd35" stroke="#1e1e1e" stroke-width="0.95" stroke-linejoin="miter"/>
<path d="M227.60 278.59L230.35 284.69L224.85 284.69Z" fill="#71bc55" stroke="#1e1e1e" stroke-width="0.95" stroke-linejoin="miter"/>
<path d="M246.90 278.59L249.65 284.69L244.15 284.69Z" fill="#bf283e" stroke="#1e1e1e" stroke-width="0.95" stroke-linejoin="miter"/>
<path d="M77.10 288.60L79.85 294.70L74.35 294.70Z" fill="#71bc55" stroke="#1e1e1e" stroke-width="0.95" stroke-linejoin="miter"/>
<path d="M99.60 288.60L102.35 294.70L96.85 294.70Z" fill="#71bc55" stroke="#1e1e1e" stroke-width="0.95" stroke-linejoin="miter"/>
<circle cx="155.60" cy="289.55" r="2.72" fill="#f5bd35" stroke="#1e1e1e" stroke-width="0.95"/>
<path d="M155.60 291.10L158.35 297.20L152.85 297.20Z" fill="#f5bd35" stroke="#1e1e1e" stroke-width="0.95" stroke-linejoin="miter"/>
<path d="M175.80 288.60L178.55 294.70L173.05 294.70Z" fill="#f5bd35" stroke="#1e1e1e" stroke-width="0.95" stroke-linejoin="miter"/>
<path d="M220.10 288.60L222.85 294.70L217.35 294.70Z" fill="#f5bd35" stroke="#1e1e1e" stroke-width="0.95" stroke-linejoin="miter"/>
<path d="M242.30 288.60L245.05 294.70L239.55 294.70Z" fill="#f5bd35" stroke="#1e1e1e" stroke-width="0.95" stroke-linejoin="miter"/>
<path d="M87.80 298.62L90.55 304.72L85.05 304.72Z" fill="#f5bd35" stroke="#1e1e1e" stroke-width="0.95" stroke-linejoin="miter"/>
<circle cx="101.00" cy="302.07" r="2.72" fill="#f5bd35" stroke="#1e1e1e" stroke-width="0.95"/>
<path d="M109.10 298.62L111.85 304.72L106.35 304.72Z" fill="#f5bd35" stroke="#1e1e1e" stroke-width="0.95" stroke-linejoin="miter"/>
<path d="M128.70 298.62L131.45 304.72L125.95 304.72Z" fill="#71bc55" stroke="#1e1e1e" stroke-width="0.95" stroke-linejoin="miter"/>
<path d="M147.90 298.62L150.65 304.72L145.15 304.72Z" fill="#f5bd35" stroke="#1e1e1e" stroke-width="0.95" stroke-linejoin="miter"/>
<polygon points="164.50,296.57 165.59,298.98 168.21,299.27 166.26,301.04 166.79,303.63 164.50,302.32 162.21,303.63 162.74,301.04 160.79,299.27 163.41,298.98" fill="#585e6f"/>
<path d="M164.30 301.12L167.05 307.22L161.55 307.22Z" fill="#f5bd35" stroke="#1e1e1e" stroke-width="0.95" stroke-linejoin="miter"/>
<path d="M176.70 298.62L179.45 304.72L173.95 304.72Z" fill="#bf283e" stroke="#1e1e1e" stroke-width="0.95" stroke-linejoin="miter"/>
<path d="M47.00 299.82L48.37 300.07L49.10 299.62L49.84 300.07L51.20 299.82L50.05 302.12L51.20 304.42L49.84 304.17L49.10 304.62L48.37 304.17L47.00 304.42L48.15 302.12Z" fill="#633767"/>
<path d="M77.70 308.64L80.45 314.74L74.95 314.74Z" fill="#71bc55" stroke="#1e1e1e" stroke-width="0.95" stroke-linejoin="miter"/>
<circle cx="94.70" cy="312.09" r="2.72" fill="#f5bd35" stroke="#1e1e1e" stroke-width="0.95"/>
<path d="M97.00 308.64L99.75 314.74L94.25 314.74Z" fill="#71bc55" stroke="#1e1e1e" stroke-width="0.95" stroke-linejoin="miter"/>
<path d="M111.70 308.64L114.45 314.74L108.95 314.74Z" fill="#71bc55" stroke="#1e1e1e" stroke-width="0.95" stroke-linejoin="miter"/>
<path d="M123.00 308.64L125.75 314.74L120.25 314.74Z" fill="#f5bd35" stroke="#1e1e1e" stroke-width="0.95" stroke-linejoin="miter"/>
<path d="M132.80 308.64L135.55 314.74L130.05 314.74Z" fill="#71bc55" stroke="#1e1e1e" stroke-width="0.95" stroke-linejoin="miter"/>
<polygon points="154.30,308.54 155.39,310.94 158.01,311.23 156.06,313.01 156.59,315.60 154.30,314.29 152.01,315.60 152.54,313.01 150.59,311.23 153.21,310.94" fill="#585e6f"/>
<path d="M158.00 308.64L160.75 314.74L155.25 314.74Z" fill="#71bc55" stroke="#1e1e1e" stroke-width="0.95" stroke-linejoin="miter"/>
<path d="M174.80 308.64L177.55 314.74L172.05 314.74Z" fill="#bf283e" stroke="#1e1e1e" stroke-width="0.95" stroke-linejoin="miter"/>
<path d="M41.40 309.29H44.00V310.04Q43.06 310.04 43.06 310.99V313.09Q43.06 314.04 44.00 314.04V314.79H41.40V314.04Q42.34 314.04 42.34 313.09V310.99Q42.34 310.04 41.40 310.04Z" fill="#6aaddf"/>
<path d="M47.00 309.84L48.37 310.09L49.10 309.64L49.84 310.09L51.20 309.84L50.05 312.14L51.20 314.44L49.84 314.19L49.10 314.64L48.37 314.19L47.00 314.44L48.15 312.14Z" fill="#633767"/>
<path d="M77.70 318.66L80.45 324.76L74.95 324.76Z" fill="#71bc55" stroke="#1e1e1e" stroke-width="0.95" stroke-linejoin="miter"/>
<path d="M99.00 318.66L101.75 324.76L96.25 324.76Z" fill="#71bc55" stroke="#1e1e1e" stroke-width="0.95" stroke-linejoin="miter"/>
<circle cx="119.80" cy="322.11" r="2.72" fill="#71bc55" stroke="#1e1e1e" stroke-width="0.95"/>
<path d="M133.70 318.66L136.45 324.76L130.95 324.76Z" fill="#71bc55" stroke="#1e1e1e" stroke-width="0.95" stroke-linejoin="miter"/>
<path d="M152.70 318.66L155.45 324.76L149.95 324.76Z" fill="#71bc55" stroke="#1e1e1e" stroke-width="0.95" stroke-linejoin="miter"/>
<polygon points="174.00,316.61 175.09,319.01 177.71,319.30 175.76,321.08 176.29,323.66 174.00,322.36 171.71,323.66 172.24,321.08 170.29,319.30 172.91,319.01" fill="#585e6f"/>
<circle cx="174.00" cy="324.61" r="2.72" fill="#71bc55" stroke="#1e1e1e" stroke-width="0.95"/>
<path d="M41.40 319.31H44.00V320.06Q43.06 320.06 43.06 321.01V323.11Q43.06 324.06 44.00 324.06V324.81H41.40V324.06Q42.34 324.06 42.34 323.11V321.01Q42.34 320.06 41.40 320.06Z" fill="#6aaddf"/>
<path d="M231.90 328.68L234.65 334.78L229.15 334.78Z" fill="#71bc55" stroke="#1e1e1e" stroke-width="0.95" stroke-linejoin="miter"/>
<path d="M255.30 328.68L258.05 334.78L252.55 334.78Z" fill="#71bc55" stroke="#1e1e1e" stroke-width="0.95" stroke-linejoin="miter"/>
<path d="M273.70 328.68L276.45 334.78L270.95 334.78Z" fill="#71bc55" stroke="#1e1e1e" stroke-width="0.95" stroke-linejoin="miter"/>
<path d="M294.80 328.68L297.55 334.78L292.05 334.78Z" fill="#71bc55" stroke="#1e1e1e" stroke-width="0.95" stroke-linejoin="miter"/>
<path d="M315.60 328.68L318.35 334.78L312.85 334.78Z" fill="#71bc55" stroke="#1e1e1e" stroke-width="0.95" stroke-linejoin="miter"/>
<circle cx="336.30" cy="332.13" r="2.72" fill="#71bc55" stroke="#1e1e1e" stroke-width="0.95"/>
<path d="M358.90 328.68L361.65 334.78L356.15 334.78Z" fill="#71bc55" stroke="#1e1e1e" stroke-width="0.95" stroke-linejoin="miter"/>
<path d="M364.80 328.68L367.55 334.78L362.05 334.78Z" fill="#71bc55" stroke="#1e1e1e" stroke-width="0.95" stroke-linejoin="miter"/>
<path d="M387.80 328.68L390.55 334.78L385.05 334.78Z" fill="#71bc55" stroke="#1e1e1e" stroke-width="0.95" stroke-linejoin="miter"/>
<path d="M452.50 328.68L455.25 334.78L449.75 334.78Z" fill="#71bc55" stroke="#1e1e1e" stroke-width="0.95" stroke-linejoin="miter"/>
<path d="M467.10 328.68L469.85 334.78L464.35 334.78Z" fill="#71bc55" stroke="#1e1e1e" stroke-width="0.95" stroke-linejoin="miter"/>
<polygon points="474.00,328.58 475.09,330.98 477.71,331.27 475.76,333.05 476.29,335.63 474.00,334.33 471.71,335.63 472.24,333.05 470.29,331.27 472.91,330.98" fill="#585e6f"/>
<path d="M41.40 329.33H44.00V330.08Q43.06 330.08 43.06 331.03V333.13Q43.06 334.08 44.00 334.08V334.83H41.40V334.08Q42.34 334.08 42.34 333.13V331.03Q42.34 330.08 41.40 330.08Z" fill="#6aaddf"/>
<path d="M208.80 338.69L211.55 344.79L206.05 344.79Z" fill="#f5bd35" stroke="#1e1e1e" stroke-width="0.95" stroke-linejoin="miter"/>
<circle cx="212.90" cy="342.14" r="2.72" fill="#f5bd35" stroke="#1e1e1e" stroke-width="0.95"/>
<path d="M229.90 338.69L232.65 344.79L227.15 344.79Z" fill="#f5bd35" stroke="#1e1e1e" stroke-width="0.95" stroke-linejoin="miter"/>
<path d="M251.80 338.69L254.55 344.79L249.05 344.79Z" fill="#f5bd35" stroke="#1e1e1e" stroke-width="0.95" stroke-linejoin="miter"/>
<path d="M293.10 338.69L295.85 344.79L290.35 344.79Z" fill="#71bc55" stroke="#1e1e1e" stroke-width="0.95" stroke-linejoin="miter"/>
<path d="M313.30 338.69L316.05 344.79L310.55 344.79Z" fill="#f5bd35" stroke="#1e1e1e" stroke-width="0.95" stroke-linejoin="miter"/>
<path d="M335.80 338.69L338.55 344.79L333.05 344.79Z" fill="#f5bd35" stroke="#1e1e1e" stroke-width="0.95" stroke-linejoin="miter"/>
<path d="M357.10 338.69L359.85 344.79L354.35 344.79Z" fill="#f5bd35" stroke="#1e1e1e" stroke-width="0.95" stroke-linejoin="miter"/>
<path d="M376.00 338.69L378.75 344.79L373.25 344.79Z" fill="#f5bd35" stroke="#1e1e1e" stroke-width="0.95" stroke-linejoin="miter"/>
<polygon points="395.80,336.64 396.89,339.05 399.51,339.34 397.56,341.12 398.09,343.70 395.80,342.39 393.51,343.70 394.04,341.12 392.09,339.34 394.71,339.05" fill="#585e6f"/>
<path d="M395.80 341.19L398.55 347.29L393.05 347.29Z" fill="#bf283e" stroke="#1e1e1e" stroke-width="0.95" stroke-linejoin="miter"/>
<path d="M414.80 338.69L417.55 344.79L412.05 344.79Z" fill="#bf283e" stroke="#1e1e1e" stroke-width="0.95" stroke-linejoin="miter"/>
<path d="M441.30 338.69L444.05 344.79L438.55 344.79Z" fill="#f5bd35" stroke="#1e1e1e" stroke-width="0.95" stroke-linejoin="miter"/>
<path d="M41.40 339.34H44.00V340.09Q43.06 340.09 43.06 341.04V343.14Q43.06 344.09 44.00 344.09V344.84H41.40V344.09Q42.34 344.09 42.34 343.14V341.04Q42.34 340.09 41.40 340.09Z" fill="#6aaddf"/>
<path d="M87.80 348.71L90.55 354.81L85.05 354.81Z" fill="#71bc55" stroke="#1e1e1e" stroke-width="0.95" stroke-linejoin="miter"/>
<path d="M109.40 348.71L112.15 354.81L106.65 354.81Z" fill="#71bc55" stroke="#1e1e1e" stroke-width="0.95" stroke-linejoin="miter"/>
<path d="M150.40 348.71L153.15 354.81L147.65 354.81Z" fill="#f5bd35" stroke="#1e1e1e" stroke-width="0.95" stroke-linejoin="miter"/>
<circle cx="178.40" cy="352.16" r="2.72" fill="#f5bd35" stroke="#1e1e1e" stroke-width="0.95"/>
<path d="M198.80 348.71L201.55 354.81L196.05 354.81Z" fill="#f5bd35" stroke="#1e1e1e" stroke-width="0.95" stroke-linejoin="miter"/>
<path d="M220.40 348.71L223.15 354.81L217.65 354.81Z" fill="#f5bd35" stroke="#1e1e1e" stroke-width="0.95" stroke-linejoin="miter"/>
<path d="M240.90 348.71L243.65 354.81L238.15 354.81Z" fill="#f5bd35" stroke="#1e1e1e" stroke-width="0.95" stroke-linejoin="miter"/>
<path d="M261.90 348.71L264.65 354.81L259.15 354.81Z" fill="#bf283e" stroke="#1e1e1e" stroke-width="0.95" stroke-linejoin="miter"/>
<path d="M283.00 348.71L285.75 354.81L280.25 354.81Z" fill="#f5bd35" stroke="#1e1e1e" stroke-width="0.95" stroke-linejoin="miter"/>
<path d="M303.50 348.71L306.25 354.81L300.75 354.81Z" fill="#bf283e" stroke="#1e1e1e" stroke-width="0.95" stroke-linejoin="miter"/>
<path d="M324.20 348.71L326.95 354.81L321.45 354.81Z" fill="#bf283e" stroke="#1e1e1e" stroke-width="0.95" stroke-linejoin="miter"/>
<path d="M327.10 348.71L329.85 354.81L324.35 354.81Z" fill="#bf283e" stroke="#1e1e1e" stroke-width="0.95" stroke-linejoin="miter"/>
<path d="M347.10 348.71L349.85 354.81L344.35 354.81Z" fill="#bf283e" stroke="#1e1e1e" stroke-width="0.95" stroke-linejoin="miter"/>
<path d="M368.70 348.71L371.45 354.81L365.95 354.81Z" fill="#bf283e" stroke="#1e1e1e" stroke-width="0.95" stroke-linejoin="miter"/>
<polygon points="389.50,346.66 390.59,349.07 393.21,349.36 391.26,351.13 391.79,353.72 389.50,352.41 387.21,353.72 387.74,351.13 385.79,349.36 388.41,349.07" fill="#585e6f"/>
<path d="M390.00 351.21L392.75 357.31L387.25 357.31Z" fill="#bf283e" stroke="#1e1e1e" stroke-width="0.95" stroke-linejoin="miter"/>
<path d="M407.00 348.71L409.75 354.81L404.25 354.81Z" fill="#bf283e" stroke="#1e1e1e" stroke-width="0.95" stroke-linejoin="miter"/>
<path d="M148.80 358.73L151.55 364.83L146.05 364.83Z" fill="#f5bd35" stroke="#1e1e1e" stroke-width="0.95" stroke-linejoin="miter"/>
<path d="M197.80 358.73L200.55 364.83L195.05 364.83Z" fill="#f5bd35" stroke="#1e1e1e" stroke-width="0.95" stroke-linejoin="miter"/>
<path d="M218.90 358.73L221.65 364.83L216.15 364.83Z" fill="#71bc55" stroke="#1e1e1e" stroke-width="0.95" stroke-linejoin="miter"/>
<path d="M127.30 368.75L130.05 374.85L124.55 374.85Z" fill="#71bc55" stroke="#1e1e1e" stroke-width="0.95" stroke-linejoin="miter"/>
<circle cx="189.00" cy="369.70" r="2.72" fill="#f5bd35" stroke="#1e1e1e" stroke-width="0.95"/>
<path d="M189.00 371.25L191.75 377.35L186.25 377.35Z" fill="#71bc55" stroke="#1e1e1e" stroke-width="0.95" stroke-linejoin="miter"/>
<path d="M211.20 368.75L213.95 374.85L208.45 374.85Z" fill="#71bc55" stroke="#1e1e1e" stroke-width="0.95" stroke-linejoin="miter"/>
<path d="M231.90 368.75L234.65 374.85L229.15 374.85Z" fill="#71bc55" stroke="#1e1e1e" stroke-width="0.95" stroke-linejoin="miter"/>
<path d="M253.30 368.75L256.05 374.85L250.55 374.85Z" fill="#71bc55" stroke="#1e1e1e" stroke-width="0.95" stroke-linejoin="miter"/>
<path d="M293.10 368.75L295.85 374.85L290.35 374.85Z" fill="#71bc55" stroke="#1e1e1e" stroke-width="0.95" stroke-linejoin="miter"/>
<path d="M315.60 368.75L318.35 374.85L312.85 374.85Z" fill="#71bc55" stroke="#1e1e1e" stroke-width="0.95" stroke-linejoin="miter"/>
<path d="M336.30 368.75L339.05 374.85L333.55 374.85Z" fill="#71bc55" stroke="#1e1e1e" stroke-width="0.95" stroke-linejoin="miter"/>
<path d="M357.60 368.75L360.35 374.85L354.85 374.85Z" fill="#71bc55" stroke="#1e1e1e" stroke-width="0.95" stroke-linejoin="miter"/>
<path d="M380.70 368.75L383.45 374.85L377.95 374.85Z" fill="#f5bd35" stroke="#1e1e1e" stroke-width="0.95" stroke-linejoin="miter"/>
<path d="M399.70 368.75L402.45 374.85L396.95 374.85Z" fill="#71bc55" stroke="#1e1e1e" stroke-width="0.95" stroke-linejoin="miter"/>
<path d="M47.00 369.95L48.37 370.20L49.10 369.75L49.84 370.20L51.20 369.95L50.05 372.25L51.20 374.55L49.84 374.30L49.10 374.75L48.37 374.30L47.00 374.55L48.15 372.25Z" fill="#633767"/>
<path d="M228.80 378.77L231.55 384.87L226.05 384.87Z" fill="#71bc55" stroke="#1e1e1e" stroke-width="0.95" stroke-linejoin="miter"/>
<path d="M249.80 378.77L252.55 384.87L247.05 384.87Z" fill="#71bc55" stroke="#1e1e1e" stroke-width="0.95" stroke-linejoin="miter"/>
<path d="M270.60 378.77L273.35 384.87L267.85 384.87Z" fill="#71bc55" stroke="#1e1e1e" stroke-width="0.95" stroke-linejoin="miter"/>
<path d="M312.70 378.77L315.45 384.87L309.95 384.87Z" fill="#f5bd35" stroke="#1e1e1e" stroke-width="0.95" stroke-linejoin="miter"/>
<path d="M335.50 378.77L338.25 384.87L332.75 384.87Z" fill="#71bc55" stroke="#1e1e1e" stroke-width="0.95" stroke-linejoin="miter"/>
<path d="M355.90 378.77L358.65 384.87L353.15 384.87Z" fill="#f5bd35" stroke="#1e1e1e" stroke-width="0.95" stroke-linejoin="miter"/>
<path d="M362.50 378.77L365.25 384.87L359.75 384.87Z" fill="#f5bd35" stroke="#1e1e1e" stroke-width="0.95" stroke-linejoin="miter"/>
<path d="M376.60 378.77L379.35 384.87L373.85 384.87Z" fill="#f5bd35" stroke="#1e1e1e" stroke-width="0.95" stroke-linejoin="miter"/>
<path d="M399.70 378.77L402.45 384.87L396.95 384.87Z" fill="#f5bd35" stroke="#1e1e1e" stroke-width="0.95" stroke-linejoin="miter"/>
<path d="M35.90 379.32Q36.85 381.32 39.10 382.27Q36.85 383.22 35.90 385.21Q34.95 383.22 32.70 382.27Q34.95 381.32 35.90 379.32Z" fill="#5f3263"/>
<path d="M41.40 379.42H44.00V380.17Q43.06 380.17 43.06 381.12V383.22Q43.06 384.17 44.00 384.17V384.92H41.40V384.17Q42.34 384.17 42.34 383.22V381.12Q42.34 380.17 41.40 380.17Z" fill="#6aaddf"/>
<circle cx="101.30" cy="392.23" r="2.72" fill="#71bc55" stroke="#1e1e1e" stroke-width="0.95"/>
<circle cx="141.50" cy="392.23" r="2.72" fill="#71bc55" stroke="#1e1e1e" stroke-width="0.95"/>
<path d="M201.20 388.78L203.95 394.88L198.45 394.88Z" fill="#71bc55" stroke="#1e1e1e" stroke-width="0.95" stroke-linejoin="miter"/>
<path d="M222.00 388.78L224.75 394.88L219.25 394.88Z" fill="#71bc55" stroke="#1e1e1e" stroke-width="0.95" stroke-linejoin="miter"/>
<path d="M232.20 388.78L234.95 394.88L229.45 394.88Z" fill="#f5bd35" stroke="#1e1e1e" stroke-width="0.95" stroke-linejoin="miter"/>
<path d="M244.30 388.78L247.05 394.88L241.55 394.88Z" fill="#bf283e" stroke="#1e1e1e" stroke-width="0.95" stroke-linejoin="miter"/>
<path d="M265.10 388.78L267.85 394.88L262.35 394.88Z" fill="#f5bd35" stroke="#1e1e1e" stroke-width="0.95" stroke-linejoin="miter"/>
<path d="M331.70 388.78L334.45 394.88L328.95 394.88Z" fill="#f5bd35" stroke="#1e1e1e" stroke-width="0.95" stroke-linejoin="miter"/>
<path d="M355.00 388.78L357.75 394.88L352.25 394.88Z" fill="#f5bd35" stroke="#1e1e1e" stroke-width="0.95" stroke-linejoin="miter"/>
<path d="M35.90 389.34Q36.85 391.33 39.10 392.28Q36.85 393.23 35.90 395.23Q34.95 393.23 32.70 392.28Q34.95 391.33 35.90 389.34Z" fill="#5f3263"/>
<path d="M170.50 398.80L173.25 404.90L167.75 404.90Z" fill="#71bc55" stroke="#1e1e1e" stroke-width="0.95" stroke-linejoin="miter"/>
<path d="M190.40 398.80L193.15 404.90L187.65 404.90Z" fill="#71bc55" stroke="#1e1e1e" stroke-width="0.95" stroke-linejoin="miter"/>
<path d="M211.70 398.80L214.45 404.90L208.95 404.90Z" fill="#71bc55" stroke="#1e1e1e" stroke-width="0.95" stroke-linejoin="miter"/>
<path d="M231.90 398.80L234.65 404.90L229.15 404.90Z" fill="#71bc55" stroke="#1e1e1e" stroke-width="0.95" stroke-linejoin="miter"/>
<path d="M251.80 398.80L254.55 404.90L249.05 404.90Z" fill="#71bc55" stroke="#1e1e1e" stroke-width="0.95" stroke-linejoin="miter"/>
<path d="M260.20 398.80L262.95 404.90L257.45 404.90Z" fill="#71bc55" stroke="#1e1e1e" stroke-width="0.95" stroke-linejoin="miter"/>
<path d="M276.60 398.80L279.35 404.90L273.85 404.90Z" fill="#71bc55" stroke="#1e1e1e" stroke-width="0.95" stroke-linejoin="miter"/>
<path d="M305.20 398.80L307.95 404.90L302.45 404.90Z" fill="#f5bd35" stroke="#1e1e1e" stroke-width="0.95" stroke-linejoin="miter"/>
<path d="M326.20 398.80L328.95 404.90L323.45 404.90Z" fill="#f5bd35" stroke="#1e1e1e" stroke-width="0.95" stroke-linejoin="miter"/>
<path d="M347.20 398.80L349.95 404.90L344.45 404.90Z" fill="#f5bd35" stroke="#1e1e1e" stroke-width="0.95" stroke-linejoin="miter"/>
<path d="M373.20 398.80L375.95 404.90L370.45 404.90Z" fill="#f5bd35" stroke="#1e1e1e" stroke-width="0.95" stroke-linejoin="miter"/>
<path d="M35.90 399.36Q36.85 401.35 39.10 402.30Q36.85 403.25 35.90 405.25Q34.95 403.25 32.70 402.30Q34.95 401.35 35.90 399.36Z" fill="#5f3263"/>
<path d="M77.10 408.82L79.85 414.92L74.35 414.92Z" fill="#f5bd35" stroke="#1e1e1e" stroke-width="0.95" stroke-linejoin="miter"/>
<circle cx="118.90" cy="409.77" r="2.72" fill="#71bc55" stroke="#1e1e1e" stroke-width="0.95"/>
<path d="M118.90 411.32L121.65 417.42L116.15 417.42Z" fill="#71bc55" stroke="#1e1e1e" stroke-width="0.95" stroke-linejoin="miter"/>
<path d="M140.30 408.82L143.05 414.92L137.55 414.92Z" fill="#71bc55" stroke="#1e1e1e" stroke-width="0.95" stroke-linejoin="miter"/>
<path d="M188.70 408.82L191.45 414.92L185.95 414.92Z" fill="#71bc55" stroke="#1e1e1e" stroke-width="0.95" stroke-linejoin="miter"/>
<path d="M209.40 408.82L212.15 414.92L206.65 414.92Z" fill="#71bc55" stroke="#1e1e1e" stroke-width="0.95" stroke-linejoin="miter"/>
<path d="M230.20 408.82L232.95 414.92L227.45 414.92Z" fill="#71bc55" stroke="#1e1e1e" stroke-width="0.95" stroke-linejoin="miter"/>
<path d="M251.50 408.82L254.25 414.92L248.75 414.92Z" fill="#71bc55" stroke="#1e1e1e" stroke-width="0.95" stroke-linejoin="miter"/>
<path d="M272.30 408.82L275.05 414.92L269.55 414.92Z" fill="#71bc55" stroke="#1e1e1e" stroke-width="0.95" stroke-linejoin="miter"/>
<path d="M292.50 408.82L295.25 414.92L289.75 414.92Z" fill="#71bc55" stroke="#1e1e1e" stroke-width="0.95" stroke-linejoin="miter"/>
<path d="M313.30 408.82L316.05 414.92L310.55 414.92Z" fill="#f5bd35" stroke="#1e1e1e" stroke-width="0.95" stroke-linejoin="miter"/>
<path d="M335.20 408.82L337.95 414.92L332.45 414.92Z" fill="#71bc55" stroke="#1e1e1e" stroke-width="0.95" stroke-linejoin="miter"/>
<path d="M355.90 408.82L358.65 414.92L353.15 414.92Z" fill="#71bc55" stroke="#1e1e1e" stroke-width="0.95" stroke-linejoin="miter"/>
<path d="M366.80 408.82L369.55 414.92L364.05 414.92Z" fill="#71bc55" stroke="#1e1e1e" stroke-width="0.95" stroke-linejoin="miter"/>
<circle cx="104.80" cy="422.29" r="2.72" fill="#71bc55" stroke="#1e1e1e" stroke-width="0.95"/>
<path d="M138.00 418.84L140.75 424.94L135.25 424.94Z" fill="#f5bd35" stroke="#1e1e1e" stroke-width="0.95" stroke-linejoin="miter"/>
<path d="M159.00 418.84L161.75 424.94L156.25 424.94Z" fill="#71bc55" stroke="#1e1e1e" stroke-width="0.95" stroke-linejoin="miter"/>
<path d="M184.40 418.84L187.15 424.94L181.65 424.94Z" fill="#71bc55" stroke="#1e1e1e" stroke-width="0.95" stroke-linejoin="miter"/>
<path d="M207.70 418.84L210.45 424.94L204.95 424.94Z" fill="#f5bd35" stroke="#1e1e1e" stroke-width="0.95" stroke-linejoin="miter"/>
<path d="M229.60 418.84L232.35 424.94L226.85 424.94Z" fill="#f5bd35" stroke="#1e1e1e" stroke-width="0.95" stroke-linejoin="miter"/>
<polygon points="250.40,416.79 251.49,419.19 254.11,419.48 252.16,421.26 252.69,423.84 250.40,422.54 248.11,423.84 248.64,421.26 246.69,419.48 249.31,419.19" fill="#585e6f"/>
<path d="M250.40 421.34L253.15 427.44L247.65 427.44Z" fill="#f5bd35" stroke="#1e1e1e" stroke-width="0.95" stroke-linejoin="miter"/>
<path d="M270.00 418.84L272.75 424.94L267.25 424.94Z" fill="#f5bd35" stroke="#1e1e1e" stroke-width="0.95" stroke-linejoin="miter"/>
<path d="M294.50 418.84L297.25 424.94L291.75 424.94Z" fill="#bf283e" stroke="#1e1e1e" stroke-width="0.95" stroke-linejoin="miter"/>
<path d="M315.60 418.84L318.35 424.94L312.85 424.94Z" fill="#f5bd35" stroke="#1e1e1e" stroke-width="0.95" stroke-linejoin="miter"/>
<path d="M339.30 418.84L342.05 424.94L336.55 424.94Z" fill="#bf283e" stroke="#1e1e1e" stroke-width="0.95" stroke-linejoin="miter"/>
<path d="M344.60 418.84L347.35 424.94L341.85 424.94Z" fill="#bf283e" stroke="#1e1e1e" stroke-width="0.95" stroke-linejoin="miter"/>
<path d="M41.40 419.49H44.00V420.24Q43.06 420.24 43.06 421.19V423.29Q43.06 424.24 44.00 424.24V424.99H41.40V424.24Q42.34 424.24 42.34 423.29V421.19Q42.34 420.24 41.40 420.24Z" fill="#6aaddf"/>
<path d="M47.00 420.04L48.37 420.29L49.10 419.84L49.84 420.29L51.20 420.04L50.05 422.34L51.20 424.64L49.84 424.39L49.10 424.84L48.37 424.39L47.00 424.64L48.15 422.34Z" fill="#633767"/>
<path d="M77.10 428.86L79.85 434.96L74.35 434.96Z" fill="#f5bd35" stroke="#1e1e1e" stroke-width="0.95" stroke-linejoin="miter"/>
<path d="M97.90 428.86L100.65 434.96L95.15 434.96Z" fill="#f5bd35" stroke="#1e1e1e" stroke-width="0.95" stroke-linejoin="miter"/>
<path d="M141.10 428.86L143.85 434.96L138.35 434.96Z" fill="#71bc55" stroke="#1e1e1e" stroke-width="0.95" stroke-linejoin="miter"/>
<path d="M178.40 428.86L181.15 434.96L175.65 434.96Z" fill="#71bc55" stroke="#1e1e1e" stroke-width="0.95" stroke-linejoin="miter"/>
<path d="M222.70 428.86L225.45 434.96L219.95 434.96Z" fill="#71bc55" stroke="#1e1e1e" stroke-width="0.95" stroke-linejoin="miter"/>
<path d="M244.60 428.86L247.35 434.96L241.85 434.96Z" fill="#71bc55" stroke="#1e1e1e" stroke-width="0.95" stroke-linejoin="miter"/>
<path d="M266.20 428.86L268.95 434.96L263.45 434.96Z" fill="#71bc55" stroke="#1e1e1e" stroke-width="0.95" stroke-linejoin="miter"/>
<path d="M291.00 428.86L293.75 434.96L288.25 434.96Z" fill="#71bc55" stroke="#1e1e1e" stroke-width="0.95" stroke-linejoin="miter"/>
<path d="M315.00 428.86L317.75 434.96L312.25 434.96Z" fill="#71bc55" stroke="#1e1e1e" stroke-width="0.95" stroke-linejoin="miter"/>
<path d="M336.30 428.86L339.05 434.96L333.55 434.96Z" fill="#71bc55" stroke="#1e1e1e" stroke-width="0.95" stroke-linejoin="miter"/>
<path d="M351.50 428.86L354.25 434.96L348.75 434.96Z" fill="#71bc55" stroke="#1e1e1e" stroke-width="0.95" stroke-linejoin="miter"/>
<circle cx="85.80" cy="439.82" r="2.72" fill="#bf283e" stroke="#1e1e1e" stroke-width="0.95"/>
<path d="M85.80 441.37L88.55 447.47L83.05 447.47Z" fill="#f5bd35" stroke="#1e1e1e" stroke-width="0.95" stroke-linejoin="miter"/>
<circle cx="104.80" cy="439.82" r="2.72" fill="#f5bd35" stroke="#1e1e1e" stroke-width="0.95"/>
<path d="M104.80 441.37L107.55 447.47L102.05 447.47Z" fill="#f5bd35" stroke="#1e1e1e" stroke-width="0.95" stroke-linejoin="miter"/>
<circle cx="115.20" cy="442.32" r="2.72" fill="#f5bd35" stroke="#1e1e1e" stroke-width="0.95"/>
<path d="M188.70 438.87L191.45 444.97L185.95 444.97Z" fill="#f5bd35" stroke="#1e1e1e" stroke-width="0.95" stroke-linejoin="miter"/>
<path d="M263.60 438.87L266.35 444.97L260.85 444.97Z" fill="#71bc55" stroke="#1e1e1e" stroke-width="0.95" stroke-linejoin="miter"/>
<polygon points="291.00,438.77 292.09,441.18 294.71,441.47 292.76,443.25 293.29,445.83 291.00,444.52 288.71,445.83 289.24,443.25 287.29,441.47 289.91,441.18" fill="#585e6f"/>
<path d="M350.40 438.87L353.15 444.97L347.65 444.97Z" fill="#bf283e" stroke="#1e1e1e" stroke-width="0.95" stroke-linejoin="miter"/>
<path d="M47.00 440.07L48.37 440.32L49.10 439.87L49.84 440.32L51.20 440.07L50.05 442.37L51.20 444.67L49.84 444.42L49.10 444.87L48.37 444.42L47.00 444.67L48.15 442.37Z" fill="#633767"/>
<path d="M160.80 448.89L163.55 454.99L158.05 454.99Z" fill="#71bc55" stroke="#1e1e1e" stroke-width="0.95" stroke-linejoin="miter"/>
<circle cx="166.00" cy="449.84" r="2.72" fill="#71bc55" stroke="#1e1e1e" stroke-width="0.95"/>
<path d="M166.00 451.39L168.75 457.49L163.25 457.49Z" fill="#71bc55" stroke="#1e1e1e" stroke-width="0.95" stroke-linejoin="miter"/>
<path d="M180.10 448.89L182.85 454.99L177.35 454.99Z" fill="#71bc55" stroke="#1e1e1e" stroke-width="0.95" stroke-linejoin="miter"/>
<circle cx="202.80" cy="452.34" r="2.72" fill="#71bc55" stroke="#1e1e1e" stroke-width="0.95"/>
<path d="M223.60 448.89L226.35 454.99L220.85 454.99Z" fill="#71bc55" stroke="#1e1e1e" stroke-width="0.95" stroke-linejoin="miter"/>
<path d="M244.30 448.89L247.05 454.99L241.55 454.99Z" fill="#71bc55" stroke="#1e1e1e" stroke-width="0.95" stroke-linejoin="miter"/>
<path d="M265.70 448.89L268.45 454.99L262.95 454.99Z" fill="#71bc55" stroke="#1e1e1e" stroke-width="0.95" stroke-linejoin="miter"/>
<path d="M286.70 448.89L289.45 454.99L283.95 454.99Z" fill="#71bc55" stroke="#1e1e1e" stroke-width="0.95" stroke-linejoin="miter"/>
<path d="M307.50 448.89L310.25 454.99L304.75 454.99Z" fill="#71bc55" stroke="#1e1e1e" stroke-width="0.95" stroke-linejoin="miter"/>
<path d="M328.30 448.89L331.05 454.99L325.55 454.99Z" fill="#71bc55" stroke="#1e1e1e" stroke-width="0.95" stroke-linejoin="miter"/>
<path d="M348.70 448.89L351.45 454.99L345.95 454.99Z" fill="#f5bd35" stroke="#1e1e1e" stroke-width="0.95" stroke-linejoin="miter"/>
<path d="M167.40 458.91L170.15 465.01L164.65 465.01Z" fill="#71bc55" stroke="#1e1e1e" stroke-width="0.95" stroke-linejoin="miter"/>
<circle cx="211.20" cy="462.36" r="2.72" fill="#71bc55" stroke="#1e1e1e" stroke-width="0.95"/>
<path d="M230.60 458.91L233.35 465.01L227.85 465.01Z" fill="#71bc55" stroke="#1e1e1e" stroke-width="0.95" stroke-linejoin="miter"/>
<path d="M251.30 458.91L254.05 465.01L248.55 465.01Z" fill="#71bc55" stroke="#1e1e1e" stroke-width="0.95" stroke-linejoin="miter"/>
<path d="M271.60 458.91L274.35 465.01L268.85 465.01Z" fill="#71bc55" stroke="#1e1e1e" stroke-width="0.95" stroke-linejoin="miter"/>
<path d="M293.00 458.91L295.75 465.01L290.25 465.01Z" fill="#71bc55" stroke="#1e1e1e" stroke-width="0.95" stroke-linejoin="miter"/>
<path d="M314.40 458.91L317.15 465.01L311.65 465.01Z" fill="#71bc55" stroke="#1e1e1e" stroke-width="0.95" stroke-linejoin="miter"/>
<path d="M334.90 458.91L337.65 465.01L332.15 465.01Z" fill="#71bc55" stroke="#1e1e1e" stroke-width="0.95" stroke-linejoin="miter"/>
<path d="M348.70 458.91L351.45 465.01L345.95 465.01Z" fill="#71bc55" stroke="#1e1e1e" stroke-width="0.95" stroke-linejoin="miter"/>
<path d="M85.80 468.93L88.55 475.03L83.05 475.03Z" fill="#71bc55" stroke="#1e1e1e" stroke-width="0.95" stroke-linejoin="miter"/>
<path d="M150.40 468.93L153.15 475.03L147.65 475.03Z" fill="#f5bd35" stroke="#1e1e1e" stroke-width="0.95" stroke-linejoin="miter"/>
<path d="M154.60 468.93L157.35 475.03L151.85 475.03Z" fill="#f5bd35" stroke="#1e1e1e" stroke-width="0.95" stroke-linejoin="miter"/>
<path d="M213.40 468.93L216.15 475.03L210.65 475.03Z" fill="#f5bd35" stroke="#1e1e1e" stroke-width="0.95" stroke-linejoin="miter"/>
<path d="M234.00 468.93L236.75 475.03L231.25 475.03Z" fill="#71bc55" stroke="#1e1e1e" stroke-width="0.95" stroke-linejoin="miter"/>
<path d="M259.60 468.93L262.35 475.03L256.85 475.03Z" fill="#f5bd35" stroke="#1e1e1e" stroke-width="0.95" stroke-linejoin="miter"/>
<path d="M296.10 468.93L298.85 475.03L293.35 475.03Z" fill="#f5bd35" stroke="#1e1e1e" stroke-width="0.95" stroke-linejoin="miter"/>
<path d="M321.10 468.93L323.85 475.03L318.35 475.03Z" fill="#f5bd35" stroke="#1e1e1e" stroke-width="0.95" stroke-linejoin="miter"/>
<circle cx="340.10" cy="472.38" r="2.72" fill="#71bc55" stroke="#1e1e1e" stroke-width="0.95"/>
<path d="M41.40 469.58H44.00V470.33Q43.06 470.33 43.06 471.28V473.38Q43.06 474.33 44.00 474.33V475.08H41.40V474.33Q42.34 474.33 42.34 473.38V471.28Q42.34 470.33 41.40 470.33Z" fill="#6aaddf"/>
<path d="M129.60 478.95L132.35 485.05L126.85 485.05Z" fill="#71bc55" stroke="#1e1e1e" stroke-width="0.95" stroke-linejoin="miter"/>
<path d="M136.00 478.95L138.75 485.05L133.25 485.05Z" fill="#71bc55" stroke="#1e1e1e" stroke-width="0.95" stroke-linejoin="miter"/>
<path d="M141.40 478.95L144.15 485.05L138.65 485.05Z" fill="#71bc55" stroke="#1e1e1e" stroke-width="0.95" stroke-linejoin="miter"/>
<circle cx="148.40" cy="482.40" r="2.72" fill="#71bc55" stroke="#1e1e1e" stroke-width="0.95"/>
<path d="M204.50 478.95L207.25 485.05L201.75 485.05Z" fill="#71bc55" stroke="#1e1e1e" stroke-width="0.95" stroke-linejoin="miter"/>
<path d="M225.30 478.95L228.05 485.05L222.55 485.05Z" fill="#71bc55" stroke="#1e1e1e" stroke-width="0.95" stroke-linejoin="miter"/>
<path d="M250.00 478.95L252.75 485.05L247.25 485.05Z" fill="#71bc55" stroke="#1e1e1e" stroke-width="0.95" stroke-linejoin="miter"/>
<path d="M271.90 478.95L274.65 485.05L269.15 485.05Z" fill="#71bc55" stroke="#1e1e1e" stroke-width="0.95" stroke-linejoin="miter"/>
<path d="M292.60 478.95L295.35 485.05L289.85 485.05Z" fill="#71bc55" stroke="#1e1e1e" stroke-width="0.95" stroke-linejoin="miter"/>
<path d="M41.40 479.60H44.00V480.35Q43.06 480.35 43.06 481.30V483.40Q43.06 484.35 44.00 484.35V485.10H41.40V484.35Q42.34 484.35 42.34 483.40V481.30Q42.34 480.35 41.40 480.35Z" fill="#6aaddf"/>
<path d="M90.10 488.96L92.85 495.06L87.35 495.06Z" fill="#f5bd35" stroke="#1e1e1e" stroke-width="0.95" stroke-linejoin="miter"/>
<path d="M102.80 488.96L105.55 495.06L100.05 495.06Z" fill="#71bc55" stroke="#1e1e1e" stroke-width="0.95" stroke-linejoin="miter"/>
<path d="M229.10 488.96L231.85 495.06L226.35 495.06Z" fill="#71bc55" stroke="#1e1e1e" stroke-width="0.95" stroke-linejoin="miter"/>
<path d="M247.90 488.96L250.65 495.06L245.15 495.06Z" fill="#71bc55" stroke="#1e1e1e" stroke-width="0.95" stroke-linejoin="miter"/>
<path d="M269.00 488.96L271.75 495.06L266.25 495.06Z" fill="#f5bd35" stroke="#1e1e1e" stroke-width="0.95" stroke-linejoin="miter"/>
<path d="M289.70 488.96L292.45 495.06L286.95 495.06Z" fill="#71bc55" stroke="#1e1e1e" stroke-width="0.95" stroke-linejoin="miter"/>
<path d="M294.00 488.96L296.75 495.06L291.25 495.06Z" fill="#f5bd35" stroke="#1e1e1e" stroke-width="0.95" stroke-linejoin="miter"/>
<path d="M47.00 490.16L48.37 490.41L49.10 489.96L49.84 490.41L51.20 490.16L50.05 492.46L51.20 494.76L49.84 494.51L49.10 494.96L48.37 494.51L47.00 494.76L48.15 492.46Z" fill="#633767"/>
<path d="M79.10 498.98L81.85 505.08L76.35 505.08Z" fill="#71bc55" stroke="#1e1e1e" stroke-width="0.95" stroke-linejoin="miter"/>
<path d="M99.90 498.98L102.65 505.08L97.15 505.08Z" fill="#71bc55" stroke="#1e1e1e" stroke-width="0.95" stroke-linejoin="miter"/>
<path d="M121.00 498.98L123.75 505.08L118.25 505.08Z" fill="#71bc55" stroke="#1e1e1e" stroke-width="0.95" stroke-linejoin="miter"/>
<circle cx="127.60" cy="499.93" r="2.72" fill="#71bc55" stroke="#1e1e1e" stroke-width="0.95"/>
<path d="M127.60 501.48L130.35 507.58L124.85 507.58Z" fill="#71bc55" stroke="#1e1e1e" stroke-width="0.95" stroke-linejoin="miter"/>
<path d="M141.40 498.98L144.15 505.08L138.65 505.08Z" fill="#71bc55" stroke="#1e1e1e" stroke-width="0.95" stroke-linejoin="miter"/>
<path d="M149.20 498.98L151.95 505.08L146.45 505.08Z" fill="#71bc55" stroke="#1e1e1e" stroke-width="0.95" stroke-linejoin="miter"/>
<path d="M197.80 498.98L200.55 505.08L195.05 505.08Z" fill="#71bc55" stroke="#1e1e1e" stroke-width="0.95" stroke-linejoin="miter"/>
<path d="M218.70 498.98L221.45 505.08L215.95 505.08Z" fill="#71bc55" stroke="#1e1e1e" stroke-width="0.95" stroke-linejoin="miter"/>
<path d="M241.30 498.98L244.05 505.08L238.55 505.08Z" fill="#71bc55" stroke="#1e1e1e" stroke-width="0.95" stroke-linejoin="miter"/>
<path d="M262.60 498.98L265.35 505.08L259.85 505.08Z" fill="#71bc55" stroke="#1e1e1e" stroke-width="0.95" stroke-linejoin="miter"/>
<path d="M289.40 498.98L292.15 505.08L286.65 505.08Z" fill="#71bc55" stroke="#1e1e1e" stroke-width="0.95" stroke-linejoin="miter"/>
<path d="M41.40 499.63H44.00V500.38Q43.06 500.38 43.06 501.33V503.43Q43.06 504.38 44.00 504.38V505.13H41.40V504.38Q42.34 504.38 42.34 503.43V501.33Q42.34 500.38 41.40 500.38Z" fill="#6aaddf"/>
<path d="M47.00 500.18L48.37 500.43L49.10 499.98L49.84 500.43L51.20 500.18L50.05 502.48L51.20 504.78L49.84 504.53L49.10 504.98L48.37 504.53L47.00 504.78L48.15 502.48Z" fill="#633767"/>
<path d="M118.40 509.00L121.15 515.10L115.65 515.10Z" fill="#71bc55" stroke="#1e1e1e" stroke-width="0.95" stroke-linejoin="miter"/>
<path d="M142.90 509.00L145.65 515.10L140.15 515.10Z" fill="#71bc55" stroke="#1e1e1e" stroke-width="0.95" stroke-linejoin="miter"/>
<circle cx="160.80" cy="512.45" r="2.72" fill="#71bc55" stroke="#1e1e1e" stroke-width="0.95"/>
<path d="M185.60 509.00L188.35 515.10L182.85 515.10Z" fill="#71bc55" stroke="#1e1e1e" stroke-width="0.95" stroke-linejoin="miter"/>
<path d="M270.60 509.00L273.35 515.10L267.85 515.10Z" fill="#f5bd35" stroke="#1e1e1e" stroke-width="0.95" stroke-linejoin="miter"/>
<path d="M286.70 509.00L289.45 515.10L283.95 515.10Z" fill="#71bc55" stroke="#1e1e1e" stroke-width="0.95" stroke-linejoin="miter"/>
<path d="M41.40 509.65H44.00V510.40Q43.06 510.40 43.06 511.35V513.45Q43.06 514.40 44.00 514.40V515.15H41.40V514.40Q42.34 514.40 42.34 513.45V511.35Q42.34 510.40 41.40 510.40Z" fill="#6aaddf"/>
<path d="M47.00 510.20L48.37 510.45L49.10 510.00L49.84 510.45L51.20 510.20L50.05 512.50L51.20 514.80L49.84 514.55L49.10 515.00L48.37 514.55L47.00 514.80L48.15 512.50Z" fill="#633767"/>
<path d="M77.10 519.02L79.85 525.12L74.35 525.12Z" fill="#f5bd35" stroke="#1e1e1e" stroke-width="0.95" stroke-linejoin="miter"/>
<path d="M98.20 519.02L100.95 525.12L95.45 525.12Z" fill="#71bc55" stroke="#1e1e1e" stroke-width="0.95" stroke-linejoin="miter"/>
<circle cx="105.10" cy="519.97" r="2.72" fill="#71bc55" stroke="#1e1e1e" stroke-width="0.95"/>
<path d="M105.10 521.52L107.85 527.62L102.35 527.62Z" fill="#71bc55" stroke="#1e1e1e" stroke-width="0.95" stroke-linejoin="miter"/>
<path d="M118.40 519.02L121.15 525.12L115.65 525.12Z" fill="#71bc55" stroke="#1e1e1e" stroke-width="0.95" stroke-linejoin="miter"/>
<path d="M132.80 519.02L135.55 525.12L130.05 525.12Z" fill="#71bc55" stroke="#1e1e1e" stroke-width="0.95" stroke-linejoin="miter"/>
<path d="M140.30 519.02L143.05 525.12L137.55 525.12Z" fill="#71bc55" stroke="#1e1e1e" stroke-width="0.95" stroke-linejoin="miter"/>
<path d="M161.60 519.02L164.35 525.12L158.85 525.12Z" fill="#71bc55" stroke="#1e1e1e" stroke-width="0.95" stroke-linejoin="miter"/>
<path d="M182.10 519.02L184.85 525.12L179.35 525.12Z" fill="#71bc55" stroke="#1e1e1e" stroke-width="0.95" stroke-linejoin="miter"/>
<path d="M200.80 519.02L203.55 525.12L198.05 525.12Z" fill="#71bc55" stroke="#1e1e1e" stroke-width="0.95" stroke-linejoin="miter"/>
<path d="M221.80 519.02L224.55 525.12L219.05 525.12Z" fill="#71bc55" stroke="#1e1e1e" stroke-width="0.95" stroke-linejoin="miter"/>
<path d="M243.20 519.02L245.95 525.12L240.45 525.12Z" fill="#71bc55" stroke="#1e1e1e" stroke-width="0.95" stroke-linejoin="miter"/>
<path d="M263.60 519.02L266.35 525.12L260.85 525.12Z" fill="#71bc55" stroke="#1e1e1e" stroke-width="0.95" stroke-linejoin="miter"/>
<path d="M285.00 519.02L287.75 525.12L282.25 525.12Z" fill="#71bc55" stroke="#1e1e1e" stroke-width="0.95" stroke-linejoin="miter"/>
<path d="M41.40 519.67H44.00V520.42Q43.06 520.42 43.06 521.37V523.47Q43.06 524.42 44.00 524.42V525.17H41.40V524.42Q42.34 524.42 42.34 523.47V521.37Q42.34 520.42 41.40 520.42Z" fill="#6aaddf"/>
<path d="M47.00 520.22L48.37 520.47L49.10 520.02L49.84 520.47L51.20 520.22L50.05 522.52L51.20 524.82L49.84 524.57L49.10 525.02L48.37 524.57L47.00 524.82L48.15 522.52Z" fill="#633767"/>
<path d="M98.20 529.04L100.95 535.14L95.45 535.14Z" fill="#71bc55" stroke="#1e1e1e" stroke-width="0.95" stroke-linejoin="miter"/>
<circle cx="112.90" cy="532.49" r="2.72" fill="#71bc55" stroke="#1e1e1e" stroke-width="0.95"/>
<path d="M133.60 529.04L136.35 535.14L130.85 535.14Z" fill="#71bc55" stroke="#1e1e1e" stroke-width="0.95" stroke-linejoin="miter"/>
<path d="M154.40 529.04L157.15 535.14L151.65 535.14Z" fill="#71bc55" stroke="#1e1e1e" stroke-width="0.95" stroke-linejoin="miter"/>
<path d="M174.90 529.04L177.65 535.14L172.15 535.14Z" fill="#71bc55" stroke="#1e1e1e" stroke-width="0.95" stroke-linejoin="miter"/>
<path d="M197.20 529.04L199.95 535.14L194.45 535.14Z" fill="#71bc55" stroke="#1e1e1e" stroke-width="0.95" stroke-linejoin="miter"/>
<path d="M260.80 529.04L263.55 535.14L258.05 535.14Z" fill="#71bc55" stroke="#1e1e1e" stroke-width="0.95" stroke-linejoin="miter"/>
<path d="M282.10 529.04L284.85 535.14L279.35 535.14Z" fill="#71bc55" stroke="#1e1e1e" stroke-width="0.95" stroke-linejoin="miter"/>
<path d="M41.40 529.69H44.00V530.44Q43.06 530.44 43.06 531.39V533.49Q43.06 534.44 44.00 534.44V535.19H41.40V534.44Q42.34 534.44 42.34 533.49V531.39Q42.34 530.44 41.40 530.44Z" fill="#6aaddf"/>
<path d="M47.00 530.24L48.37 530.49L49.10 530.04L49.84 530.49L51.20 530.24L50.05 532.54L51.20 534.84L49.84 534.59L49.10 535.04L48.37 534.59L47.00 534.84L48.15 532.54Z" fill="#633767"/>
<path d="M77.10 539.05L79.85 545.15L74.35 545.15Z" fill="#f5bd35" stroke="#1e1e1e" stroke-width="0.95" stroke-linejoin="miter"/>
<path d="M98.20 539.05L100.95 545.15L95.45 545.15Z" fill="#71bc55" stroke="#1e1e1e" stroke-width="0.95" stroke-linejoin="miter"/>
<path d="M118.90 539.05L121.65 545.15L116.15 545.15Z" fill="#71bc55" stroke="#1e1e1e" stroke-width="0.95" stroke-linejoin="miter"/>
<circle cx="125.90" cy="542.50" r="2.72" fill="#71bc55" stroke="#1e1e1e" stroke-width="0.95"/>
<path d="M133.10 539.05L135.85 545.15L130.35 545.15Z" fill="#71bc55" stroke="#1e1e1e" stroke-width="0.95" stroke-linejoin="miter"/>
<path d="M140.30 539.05L143.05 545.15L137.55 545.15Z" fill="#71bc55" stroke="#1e1e1e" stroke-width="0.95" stroke-linejoin="miter"/>
<path d="M160.80 539.05L163.55 545.15L158.05 545.15Z" fill="#71bc55" stroke="#1e1e1e" stroke-width="0.95" stroke-linejoin="miter"/>
<path d="M182.10 539.05L184.85 545.15L179.35 545.15Z" fill="#f5bd35" stroke="#1e1e1e" stroke-width="0.95" stroke-linejoin="miter"/>
<path d="M202.80 539.05L205.55 545.15L200.05 545.15Z" fill="#71bc55" stroke="#1e1e1e" stroke-width="0.95" stroke-linejoin="miter"/>
<path d="M223.80 539.05L226.55 545.15L221.05 545.15Z" fill="#71bc55" stroke="#1e1e1e" stroke-width="0.95" stroke-linejoin="miter"/>
<path d="M244.60 539.05L247.35 545.15L241.85 545.15Z" fill="#f5bd35" stroke="#1e1e1e" stroke-width="0.95" stroke-linejoin="miter"/>
<path d="M265.40 539.05L268.15 545.15L262.65 545.15Z" fill="#71bc55" stroke="#1e1e1e" stroke-width="0.95" stroke-linejoin="miter"/>
<path d="M41.40 539.70H44.00V540.45Q43.06 540.45 43.06 541.40V543.50Q43.06 544.45 44.00 544.45V545.20H41.40V544.45Q42.34 544.45 42.34 543.50V541.40Q42.34 540.45 41.40 540.45Z" fill="#6aaddf"/>
<path d="M47.00 540.25L48.37 540.50L49.10 540.05L49.84 540.50L51.20 540.25L50.05 542.55L51.20 544.85L49.84 544.60L49.10 545.05L48.37 544.60L47.00 544.85L48.15 542.55Z" fill="#633767"/>
<path d="M98.50 549.07L101.25 555.17L95.75 555.17Z" fill="#71bc55" stroke="#1e1e1e" stroke-width="0.95" stroke-linejoin="miter"/>
<path d="M111.70 549.07L114.45 555.17L108.95 555.17Z" fill="#71bc55" stroke="#1e1e1e" stroke-width="0.95" stroke-linejoin="miter"/>
<path d="M133.60 549.07L136.35 555.17L130.85 555.17Z" fill="#71bc55" stroke="#1e1e1e" stroke-width="0.95" stroke-linejoin="miter"/>
<path d="M154.40 549.07L157.15 555.17L151.65 555.17Z" fill="#71bc55" stroke="#1e1e1e" stroke-width="0.95" stroke-linejoin="miter"/>
<path d="M174.60 549.07L177.35 555.17L171.85 555.17Z" fill="#71bc55" stroke="#1e1e1e" stroke-width="0.95" stroke-linejoin="miter"/>
<path d="M196.00 549.07L198.75 555.17L193.25 555.17Z" fill="#71bc55" stroke="#1e1e1e" stroke-width="0.95" stroke-linejoin="miter"/>
<path d="M218.10 549.07L220.85 555.17L215.35 555.17Z" fill="#71bc55" stroke="#1e1e1e" stroke-width="0.95" stroke-linejoin="miter"/>
<path d="M236.20 549.07L238.95 555.17L233.45 555.17Z" fill="#71bc55" stroke="#1e1e1e" stroke-width="0.95" stroke-linejoin="miter"/>
<path d="M277.80 549.07L280.55 555.17L275.05 555.17Z" fill="#71bc55" stroke="#1e1e1e" stroke-width="0.95" stroke-linejoin="miter"/>
<path d="M41.40 549.72H44.00V550.47Q43.06 550.47 43.06 551.42V553.52Q43.06 554.47 44.00 554.47V555.22H41.40V554.47Q42.34 554.47 42.34 553.52V551.42Q42.34 550.47 41.40 550.47Z" fill="#6aaddf"/>
<path d="M47.00 550.27L48.37 550.52L49.10 550.07L49.84 550.52L51.20 550.27L50.05 552.57L51.20 554.87L49.84 554.62L49.10 555.07L48.37 554.62L47.00 554.87L48.15 552.57Z" fill="#633767"/>
<path d="M79.40 559.09L82.15 565.19L76.65 565.19Z" fill="#71bc55" stroke="#1e1e1e" stroke-width="0.95" stroke-linejoin="miter"/>
<path d="M100.20 559.09L102.95 565.19L97.45 565.19Z" fill="#71bc55" stroke="#1e1e1e" stroke-width="0.95" stroke-linejoin="miter"/>
<path d="M114.00 559.09L116.75 565.19L111.25 565.19Z" fill="#71bc55" stroke="#1e1e1e" stroke-width="0.95" stroke-linejoin="miter"/>
<path d="M134.50 559.09L137.25 565.19L131.75 565.19Z" fill="#71bc55" stroke="#1e1e1e" stroke-width="0.95" stroke-linejoin="miter"/>
<circle cx="160.50" cy="562.54" r="2.72" fill="#71bc55" stroke="#1e1e1e" stroke-width="0.95"/>
<path d="M174.60 559.09L177.35 565.19L171.85 565.19Z" fill="#71bc55" stroke="#1e1e1e" stroke-width="0.95" stroke-linejoin="miter"/>
<path d="M197.50 559.09L200.25 565.19L194.75 565.19Z" fill="#71bc55" stroke="#1e1e1e" stroke-width="0.95" stroke-linejoin="miter"/>
<path d="M220.10 559.09L222.85 565.19L217.35 565.19Z" fill="#71bc55" stroke="#1e1e1e" stroke-width="0.95" stroke-linejoin="miter"/>
<path d="M264.20 559.09L266.95 565.19L261.45 565.19Z" fill="#71bc55" stroke="#1e1e1e" stroke-width="0.95" stroke-linejoin="miter"/>
<circle cx="267.10" cy="562.54" r="2.72" fill="#71bc55" stroke="#1e1e1e" stroke-width="0.95"/>
<path d="M275.80 559.09L278.55 565.19L273.05 565.19Z" fill="#71bc55" stroke="#1e1e1e" stroke-width="0.95" stroke-linejoin="miter"/>
<path d="M41.40 559.74H44.00V560.49Q43.06 560.49 43.06 561.44V563.54Q43.06 564.49 44.00 564.49V565.24H41.40V564.49Q42.34 564.49 42.34 563.54V561.44Q42.34 560.49 41.40 560.49Z" fill="#6aaddf"/>
<path d="M98.50 569.11L101.25 575.21L95.75 575.21Z" fill="#71bc55" stroke="#1e1e1e" stroke-width="0.95" stroke-linejoin="miter"/>
<circle cx="112.00" cy="570.06" r="2.72" fill="#71bc55" stroke="#1e1e1e" stroke-width="0.95"/>
<path d="M112.00 571.61L114.75 577.71L109.25 577.71Z" fill="#71bc55" stroke="#1e1e1e" stroke-width="0.95" stroke-linejoin="miter"/>
<path d="M133.60 569.11L136.35 575.21L130.85 575.21Z" fill="#71bc55" stroke="#1e1e1e" stroke-width="0.95" stroke-linejoin="miter"/>
<path d="M194.30 569.11L197.05 575.21L191.55 575.21Z" fill="#71bc55" stroke="#1e1e1e" stroke-width="0.95" stroke-linejoin="miter"/>
<path d="M214.00 569.11L216.75 575.21L211.25 575.21Z" fill="#71bc55" stroke="#1e1e1e" stroke-width="0.95" stroke-linejoin="miter"/>
<path d="M275.20 569.11L277.95 575.21L272.45 575.21Z" fill="#71bc55" stroke="#1e1e1e" stroke-width="0.95" stroke-linejoin="miter"/>
<path d="M41.40 569.76H44.00V570.51Q43.06 570.51 43.06 571.46V573.56Q43.06 574.51 44.00 574.51V575.26H41.40V574.51Q42.34 574.51 42.34 573.56V571.46Q42.34 570.51 41.40 570.51Z" fill="#6aaddf"/>
<path d="M82.30 579.13L85.05 585.23L79.55 585.23Z" fill="#f5bd35" stroke="#1e1e1e" stroke-width="0.95" stroke-linejoin="miter"/>
<path d="M127.30 579.13L130.05 585.23L124.55 585.23Z" fill="#71bc55" stroke="#1e1e1e" stroke-width="0.95" stroke-linejoin="miter"/>
<path d="M148.90 579.13L151.65 585.23L146.15 585.23Z" fill="#f5bd35" stroke="#1e1e1e" stroke-width="0.95" stroke-linejoin="miter"/>
<path d="M171.40 579.13L174.15 585.23L168.65 585.23Z" fill="#f5bd35" stroke="#1e1e1e" stroke-width="0.95" stroke-linejoin="miter"/>
<path d="M190.50 579.13L193.25 585.23L187.75 585.23Z" fill="#f5bd35" stroke="#1e1e1e" stroke-width="0.95" stroke-linejoin="miter"/>
<path d="M210.90 579.13L213.65 585.23L208.15 585.23Z" fill="#f5bd35" stroke="#1e1e1e" stroke-width="0.95" stroke-linejoin="miter"/>
<path d="M223.60 579.13L226.35 585.23L220.85 585.23Z" fill="#f5bd35" stroke="#1e1e1e" stroke-width="0.95" stroke-linejoin="miter"/>
<polygon points="251.50,577.08 252.59,579.48 255.21,579.77 253.26,581.55 253.79,584.13 251.50,582.83 249.21,584.13 249.74,581.55 247.79,579.77 250.41,579.48" fill="#585e6f"/>
<path d="M251.50 581.63L254.25 587.73L248.75 587.73Z" fill="#f5bd35" stroke="#1e1e1e" stroke-width="0.95" stroke-linejoin="miter"/>
<path d="M274.30 579.13L277.05 585.23L271.55 585.23Z" fill="#bf283e" stroke="#1e1e1e" stroke-width="0.95" stroke-linejoin="miter"/>
<path d="M35.90 579.68Q36.85 581.68 39.10 582.63Q36.85 583.58 35.90 585.57Q34.95 583.58 32.70 582.63Q34.95 581.68 35.90 579.68Z" fill="#5f3263"/>
<path d="M41.40 579.78H44.00V580.53Q43.06 580.53 43.06 581.48V583.58Q43.06 584.53 44.00 584.53V585.28H41.40V584.53Q42.34 584.53 42.34 583.58V581.48Q42.34 580.53 41.40 580.53Z" fill="#6aaddf"/>
<path d="M47.00 580.33L48.37 580.58L49.10 580.13L49.84 580.58L51.20 580.33L50.05 582.63L51.20 584.93L49.84 584.68L49.10 585.13L48.37 584.68L47.00 584.93L48.15 582.63Z" fill="#633767"/>
<path d="M85.50 589.14L88.25 595.24L82.75 595.24Z" fill="#71bc55" stroke="#1e1e1e" stroke-width="0.95" stroke-linejoin="miter"/>
<path d="M106.80 589.14L109.55 595.24L104.05 595.24Z" fill="#71bc55" stroke="#1e1e1e" stroke-width="0.95" stroke-linejoin="miter"/>
<circle cx="113.70" cy="590.09" r="2.72" fill="#71bc55" stroke="#1e1e1e" stroke-width="0.95"/>
<path d="M113.70 591.64L116.45 597.74L110.95 597.74Z" fill="#71bc55" stroke="#1e1e1e" stroke-width="0.95" stroke-linejoin="miter"/>
<circle cx="150.10" cy="590.09" r="2.72" fill="#71bc55" stroke="#1e1e1e" stroke-width="0.95"/>
<path d="M150.10 591.64L152.85 597.74L147.35 597.74Z" fill="#71bc55" stroke="#1e1e1e" stroke-width="0.95" stroke-linejoin="miter"/>
<path d="M207.40 589.14L210.15 595.24L204.65 595.24Z" fill="#71bc55" stroke="#1e1e1e" stroke-width="0.95" stroke-linejoin="miter"/>
<path d="M230.50 589.14L233.25 595.24L227.75 595.24Z" fill="#71bc55" stroke="#1e1e1e" stroke-width="0.95" stroke-linejoin="miter"/>
<path d="M251.80 589.14L254.55 595.24L249.05 595.24Z" fill="#71bc55" stroke="#1e1e1e" stroke-width="0.95" stroke-linejoin="miter"/>
<path d="M41.40 589.79H44.00V590.54Q43.06 590.54 43.06 591.49V593.59Q43.06 594.54 44.00 594.54V595.29H41.40V594.54Q42.34 594.54 42.34 593.59V591.49Q42.34 590.54 41.40 590.54Z" fill="#6aaddf"/>
<path d="M47.00 590.34L48.37 590.59L49.10 590.14L49.84 590.59L51.20 590.34L50.05 592.64L51.20 594.94L49.84 594.69L49.10 595.14L48.37 594.69L47.00 594.94L48.15 592.64Z" fill="#633767"/>
<path d="M77.10 599.16L79.85 605.26L74.35 605.26Z" fill="#71bc55" stroke="#1e1e1e" stroke-width="0.95" stroke-linejoin="miter"/>
<path d="M97.90 599.16L100.65 605.26L95.15 605.26Z" fill="#71bc55" stroke="#1e1e1e" stroke-width="0.95" stroke-linejoin="miter"/>
<path d="M111.70 599.16L114.45 605.26L108.95 605.26Z" fill="#71bc55" stroke="#1e1e1e" stroke-width="0.95" stroke-linejoin="miter"/>
<path d="M118.90 599.16L121.65 605.26L116.15 605.26Z" fill="#71bc55" stroke="#1e1e1e" stroke-width="0.95" stroke-linejoin="miter"/>
<path d="M133.10 599.16L135.85 605.26L130.35 605.26Z" fill="#71bc55" stroke="#1e1e1e" stroke-width="0.95" stroke-linejoin="miter"/>
<path d="M140.30 599.16L143.05 605.26L137.55 605.26Z" fill="#71bc55" stroke="#1e1e1e" stroke-width="0.95" stroke-linejoin="miter"/>
<circle cx="147.20" cy="602.61" r="2.72" fill="#71bc55" stroke="#1e1e1e" stroke-width="0.95"/>
<path d="M161.00 599.16L163.75 605.26L158.25 605.26Z" fill="#71bc55" stroke="#1e1e1e" stroke-width="0.95" stroke-linejoin="miter"/>
<path d="M182.40 599.16L185.15 605.26L179.65 605.26Z" fill="#71bc55" stroke="#1e1e1e" stroke-width="0.95" stroke-linejoin="miter"/>
<path d="M204.20 599.16L206.95 605.26L201.45 605.26Z" fill="#71bc55" stroke="#1e1e1e" stroke-width="0.95" stroke-linejoin="miter"/>
<path d="M225.60 599.16L228.35 605.26L222.85 605.26Z" fill="#f5bd35" stroke="#1e1e1e" stroke-width="0.95" stroke-linejoin="miter"/>
<path d="M246.60 599.16L249.35 605.26L243.85 605.26Z" fill="#71bc55" stroke="#1e1e1e" stroke-width="0.95" stroke-linejoin="miter"/>
<path d="M266.80 599.16L269.55 605.26L264.05 605.26Z" fill="#71bc55" stroke="#1e1e1e" stroke-width="0.95" stroke-linejoin="miter"/>
<path d="M41.40 599.81H44.00V600.56Q43.06 600.56 43.06 601.51V603.61Q43.06 604.56 44.00 604.56V605.31H41.40V604.56Q42.34 604.56 42.34 603.61V601.51Q42.34 600.56 41.40 600.56Z" fill="#6aaddf"/>
<path d="M47.00 600.36L48.37 600.61L49.10 600.16L49.84 600.61L51.20 600.36L50.05 602.66L51.20 604.96L49.84 604.71L49.10 605.16L48.37 604.71L47.00 604.96L48.15 602.66Z" fill="#633767"/>
<circle cx="97.90" cy="612.63" r="2.72" fill="#71bc55" stroke="#1e1e1e" stroke-width="0.95"/>
<path d="M118.90 609.18L121.65 615.28L116.15 615.28Z" fill="#71bc55" stroke="#1e1e1e" stroke-width="0.95" stroke-linejoin="miter"/>
<circle cx="154.70" cy="612.63" r="2.72" fill="#f5bd35" stroke="#1e1e1e" stroke-width="0.95"/>
<path d="M174.60 609.18L177.35 615.28L171.85 615.28Z" fill="#f5bd35" stroke="#1e1e1e" stroke-width="0.95" stroke-linejoin="miter"/>
<path d="M196.00 609.18L198.75 615.28L193.25 615.28Z" fill="#71bc55" stroke="#1e1e1e" stroke-width="0.95" stroke-linejoin="miter"/>
<path d="M221.50 609.18L224.25 615.28L218.75 615.28Z" fill="#f5bd35" stroke="#1e1e1e" stroke-width="0.95" stroke-linejoin="miter"/>
<path d="M237.40 609.18L240.15 615.28L234.65 615.28Z" fill="#bf283e" stroke="#1e1e1e" stroke-width="0.95" stroke-linejoin="miter"/>
<path d="M259.00 609.18L261.75 615.28L256.25 615.28Z" fill="#bf283e" stroke="#1e1e1e" stroke-width="0.95" stroke-linejoin="miter"/>
<path d="M35.90 609.74Q36.85 611.73 39.10 612.68Q36.85 613.63 35.90 615.62Q34.95 613.63 32.70 612.68Q34.95 611.73 35.90 609.74Z" fill="#5f3263"/>
<path d="M41.40 609.83H44.00V610.58Q43.06 610.58 43.06 611.53V613.63Q43.06 614.58 44.00 614.58V615.33H41.40V614.58Q42.34 614.58 42.34 613.63V611.53Q42.34 610.58 41.40 610.58Z" fill="#6aaddf"/>
<path d="M47.00 610.38L48.37 610.63L49.10 610.18L49.84 610.63L51.20 610.38L50.05 612.68L51.20 614.98L49.84 614.73L49.10 615.18L48.37 614.73L47.00 614.98L48.15 612.68Z" fill="#633767"/>
<path d="M77.10 619.20L79.85 625.30L74.35 625.30Z" fill="#f5bd35" stroke="#1e1e1e" stroke-width="0.95" stroke-linejoin="miter"/>
<path d="M98.20 619.20L100.95 625.30L95.45 625.30Z" fill="#71bc55" stroke="#1e1e1e" stroke-width="0.95" stroke-linejoin="miter"/>
<path d="M111.70 619.20L114.45 625.30L108.95 625.30Z" fill="#f5bd35" stroke="#1e1e1e" stroke-width="0.95" stroke-linejoin="miter"/>
<path d="M153.50 619.20L156.25 625.30L150.75 625.30Z" fill="#f5bd35" stroke="#1e1e1e" stroke-width="0.95" stroke-linejoin="miter"/>
<path d="M175.80 619.20L178.55 625.30L173.05 625.30Z" fill="#f5bd35" stroke="#1e1e1e" stroke-width="0.95" stroke-linejoin="miter"/>
<path d="M198.80 619.20L201.55 625.30L196.05 625.30Z" fill="#71bc55" stroke="#1e1e1e" stroke-width="0.95" stroke-linejoin="miter"/>
<circle cx="252.70" cy="622.65" r="2.72" fill="#71bc55" stroke="#1e1e1e" stroke-width="0.95"/>
<path d="M254.10 619.20L256.85 625.30L251.35 625.30Z" fill="#71bc55" stroke="#1e1e1e" stroke-width="0.95" stroke-linejoin="miter"/>
<path d="M41.40 619.85H44.00V620.60Q43.06 620.60 43.06 621.55V623.65Q43.06 624.60 44.00 624.60V625.35H41.40V624.60Q42.34 624.60 42.34 623.65V621.55Q42.34 620.60 41.40 620.60Z" fill="#6aaddf"/>
<path d="M47.00 620.40L48.37 620.65L49.10 620.20L49.84 620.65L51.20 620.40L50.05 622.70L51.20 625.00L49.84 624.75L49.10 625.20L48.37 624.75L47.00 625.00L48.15 622.70Z" fill="#633767"/>
<path d="M77.10 629.22L79.85 635.32L74.35 635.32Z" fill="#f5bd35" stroke="#1e1e1e" stroke-width="0.95" stroke-linejoin="miter"/>
<path d="M112.30 629.22L115.05 635.32L109.55 635.32Z" fill="#71bc55" stroke="#1e1e1e" stroke-width="0.95" stroke-linejoin="miter"/>
<path d="M121.50 629.22L124.25 635.32L118.75 635.32Z" fill="#71bc55" stroke="#1e1e1e" stroke-width="0.95" stroke-linejoin="miter"/>
<path d="M135.40 629.22L138.15 635.32L132.65 635.32Z" fill="#71bc55" stroke="#1e1e1e" stroke-width="0.95" stroke-linejoin="miter"/>
<path d="M172.20 629.22L174.95 635.32L169.45 635.32Z" fill="#71bc55" stroke="#1e1e1e" stroke-width="0.95" stroke-linejoin="miter"/>
<polygon points="216.00,627.17 217.09,629.57 219.71,629.86 217.76,631.64 218.29,634.22 216.00,632.92 213.71,634.22 214.24,631.64 212.29,629.86 214.91,629.57" fill="#585e6f"/>
<path d="M216.00 631.72L218.75 637.82L213.25 637.82Z" fill="#71bc55" stroke="#1e1e1e" stroke-width="0.95" stroke-linejoin="miter"/>
<circle cx="247.70" cy="630.17" r="2.72" fill="#f5bd35" stroke="#1e1e1e" stroke-width="0.95"/>
<path d="M247.70 631.72L250.45 637.82L244.95 637.82Z" fill="#f5bd35" stroke="#1e1e1e" stroke-width="0.95" stroke-linejoin="miter"/>
<path d="M41.40 629.87H44.00V630.62Q43.06 630.62 43.06 631.57V633.67Q43.06 634.62 44.00 634.62V635.37H41.40V634.62Q42.34 634.62 42.34 633.67V631.57Q42.34 630.62 41.40 630.62Z" fill="#6aaddf"/>
<path d="M47.00 630.42L48.37 630.67L49.10 630.22L49.84 630.67L51.20 630.42L50.05 632.72L51.20 635.02L49.84 634.77L49.10 635.22L48.37 634.77L47.00 635.02L48.15 632.72Z" fill="#633767"/>
<path d="M84.00 639.23L86.75 645.33L81.25 645.33Z" fill="#71bc55" stroke="#1e1e1e" stroke-width="0.95" stroke-linejoin="miter"/>
<circle cx="97.90" cy="642.68" r="2.72" fill="#71bc55" stroke="#1e1e1e" stroke-width="0.95"/>
<path d="M105.10 639.23L107.85 645.33L102.35 645.33Z" fill="#71bc55" stroke="#1e1e1e" stroke-width="0.95" stroke-linejoin="miter"/>
<path d="M118.90 639.23L121.65 645.33L116.15 645.33Z" fill="#71bc55" stroke="#1e1e1e" stroke-width="0.95" stroke-linejoin="miter"/>
<path d="M162.70 639.23L165.45 645.33L159.95 645.33Z" fill="#71bc55" stroke="#1e1e1e" stroke-width="0.95" stroke-linejoin="miter"/>
<path d="M185.00 639.23L187.75 645.33L182.25 645.33Z" fill="#71bc55" stroke="#1e1e1e" stroke-width="0.95" stroke-linejoin="miter"/>
<path d="M208.20 639.23L210.95 645.33L205.45 645.33Z" fill="#71bc55" stroke="#1e1e1e" stroke-width="0.95" stroke-linejoin="miter"/>
<path d="M230.30 636.73L233.05 642.83L227.55 642.83Z" fill="#f5bd35" stroke="#1e1e1e" stroke-width="0.95" stroke-linejoin="miter"/>
<circle cx="230.30" cy="645.18" r="2.72" fill="#71bc55" stroke="#1e1e1e" stroke-width="0.95"/>
<path d="M78.60 649.25L81.35 655.35L75.85 655.35Z" fill="#f5bd35" stroke="#1e1e1e" stroke-width="0.95" stroke-linejoin="miter"/>
<path d="M115.50 649.25L118.25 655.35L112.75 655.35Z" fill="#f5bd35" stroke="#1e1e1e" stroke-width="0.95" stroke-linejoin="miter"/>
<path d="M136.00 649.25L138.75 655.35L133.25 655.35Z" fill="#71bc55" stroke="#1e1e1e" stroke-width="0.95" stroke-linejoin="miter"/>
<circle cx="155.30" cy="652.70" r="2.72" fill="#f5bd35" stroke="#1e1e1e" stroke-width="0.95"/>
<path d="M175.80 649.25L178.55 655.35L173.05 655.35Z" fill="#f5bd35" stroke="#1e1e1e" stroke-width="0.95" stroke-linejoin="miter"/>
<path d="M200.80 649.25L203.55 655.35L198.05 655.35Z" fill="#bf283e" stroke="#1e1e1e" stroke-width="0.95" stroke-linejoin="miter"/>
<path d="M217.90 649.25L220.65 655.35L215.15 655.35Z" fill="#bf283e" stroke="#1e1e1e" stroke-width="0.95" stroke-linejoin="miter"/>
<polygon points="240.50,647.20 241.59,649.61 244.21,649.90 242.26,651.67 242.79,654.26 240.50,652.95 238.21,654.26 238.74,651.67 236.79,649.90 239.41,649.61" fill="#585e6f"/>
<path d="M240.50 651.75L243.25 657.85L237.75 657.85Z" fill="#bf283e" stroke="#1e1e1e" stroke-width="0.95" stroke-linejoin="miter"/>
<path d="M41.40 649.90H44.00V650.65Q43.06 650.65 43.06 651.60V653.70Q43.06 654.65 44.00 654.65V655.40H41.40V654.65Q42.34 654.65 42.34 653.70V651.60Q42.34 650.65 41.40 650.65Z" fill="#6aaddf"/>
<path d="M47.00 650.45L48.37 650.70L49.10 650.25L49.84 650.70L51.20 650.45L50.05 652.75L51.20 655.05L49.84 654.80L49.10 655.25L48.37 654.80L47.00 655.05L48.15 652.75Z" fill="#633767"/>
<circle cx="89.50" cy="660.22" r="2.72" fill="#bf283e" stroke="#1e1e1e" stroke-width="0.95"/>
<path d="M89.50 661.77L92.25 667.87L86.75 667.87Z" fill="#71bc55" stroke="#1e1e1e" stroke-width="0.95" stroke-linejoin="miter"/>
<path d="M163.10 659.27L165.85 665.37L160.35 665.37Z" fill="#71bc55" stroke="#1e1e1e" stroke-width="0.95" stroke-linejoin="miter"/>
<path d="M199.00 659.27L201.75 665.37L196.25 665.37Z" fill="#f5bd35" stroke="#1e1e1e" stroke-width="0.95" stroke-linejoin="miter"/>
<path d="M206.10 659.27L208.85 665.37L203.35 665.37Z" fill="#71bc55" stroke="#1e1e1e" stroke-width="0.95" stroke-linejoin="miter"/>
<polygon points="238.90,659.57 239.87,661.74 242.23,661.99 240.47,663.58 240.96,665.90 238.90,664.72 236.84,665.90 237.33,663.58 235.57,661.99 237.93,661.74" fill="#b8283f" stroke="#1e1e1e" stroke-width="0.8" stroke-linejoin="miter"/>
<polygon points="190.60,667.24 191.69,669.64 194.31,669.93 192.36,671.71 192.89,674.29 190.60,672.99 188.31,674.29 188.84,671.71 186.89,669.93 189.51,669.64" fill="#585e6f"/>
<circle cx="190.60" cy="675.24" r="2.72" fill="#f5bd35" stroke="#1e1e1e" stroke-width="0.95"/>
<path d="M210.00 669.29L212.75 675.39L207.25 675.39Z" fill="#f5bd35" stroke="#1e1e1e" stroke-width="0.95" stroke-linejoin="miter"/>
<path d="M77.10 679.31L79.85 685.41L74.35 685.41Z" fill="#bf283e" stroke="#1e1e1e" stroke-width="0.95" stroke-linejoin="miter"/>
<path d="M98.20 679.31L100.95 685.41L95.45 685.41Z" fill="#f5bd35" stroke="#1e1e1e" stroke-width="0.95" stroke-linejoin="miter"/>
<path d="M115.20 679.31L117.95 685.41L112.45 685.41Z" fill="#f5bd35" stroke="#1e1e1e" stroke-width="0.95" stroke-linejoin="miter"/>
<path d="M134.50 679.31L137.25 685.41L131.75 685.41Z" fill="#f5bd35" stroke="#1e1e1e" stroke-width="0.95" stroke-linejoin="miter"/>
<polygon points="143.50,679.21 144.59,681.61 147.21,681.90 145.26,683.68 145.79,686.26 143.50,684.96 141.21,686.26 141.74,683.68 139.79,681.90 142.41,681.61" fill="#585e6f"/>
<path d="M162.40 679.31L165.15 685.41L159.65 685.41Z" fill="#bf283e" stroke="#1e1e1e" stroke-width="0.95" stroke-linejoin="miter"/>
<path d="M176.90 679.31L179.65 685.41L174.15 685.41Z" fill="#bf283e" stroke="#1e1e1e" stroke-width="0.95" stroke-linejoin="miter"/>
<path d="M185.00 679.31L187.75 685.41L182.25 685.41Z" fill="#bf283e" stroke="#1e1e1e" stroke-width="0.95" stroke-linejoin="miter"/>
<path d="M206.60 679.31L209.35 685.41L203.85 685.41Z" fill="#71bc55" stroke="#1e1e1e" stroke-width="0.95" stroke-linejoin="miter"/>
<path d="M41.40 679.96H44.00V680.71Q43.06 680.71 43.06 681.66V683.76Q43.06 684.71 44.00 684.71V685.46H41.40V684.71Q42.34 684.71 42.34 683.76V681.66Q42.34 680.71 41.40 680.71Z" fill="#6aaddf"/>
<path d="M85.80 689.32L88.55 695.42L83.05 695.42Z" fill="#f5bd35" stroke="#1e1e1e" stroke-width="0.95" stroke-linejoin="miter"/>
<circle cx="107.10" cy="690.27" r="2.72" fill="#bf283e" stroke="#1e1e1e" stroke-width="0.95"/>
<path d="M107.10 691.82L109.85 697.92L104.35 697.92Z" fill="#f5bd35" stroke="#1e1e1e" stroke-width="0.95" stroke-linejoin="miter"/>
<polygon points="127.30,687.27 128.39,689.68 131.01,689.97 129.06,691.75 129.59,694.33 127.30,693.02 125.01,694.33 125.54,691.75 123.59,689.97 126.21,689.68" fill="#585e6f"/>
<path d="M127.30 691.82L130.05 697.92L124.55 697.92Z" fill="#71bc55" stroke="#1e1e1e" stroke-width="0.95" stroke-linejoin="miter"/>
<path d="M150.40 689.32L153.15 695.42L147.65 695.42Z" fill="#f5bd35" stroke="#1e1e1e" stroke-width="0.95" stroke-linejoin="miter"/>
<path d="M171.10 689.32L173.85 695.42L168.35 695.42Z" fill="#f5bd35" stroke="#1e1e1e" stroke-width="0.95" stroke-linejoin="miter"/>
<path d="M41.40 689.97H44.00V690.72Q43.06 690.72 43.06 691.67V693.77Q43.06 694.72 44.00 694.72V695.47H41.40V694.72Q42.34 694.72 42.34 693.77V691.67Q42.34 690.72 41.40 690.72Z" fill="#6aaddf"/>
<path d="M47.00 690.52L48.37 690.77L49.10 690.32L49.84 690.77L51.20 690.52L50.05 692.82L51.20 695.12L49.84 694.87L49.10 695.32L48.37 694.87L47.00 695.12L48.15 692.82Z" fill="#633767"/>
<path d="M77.10 699.34L79.85 705.44L74.35 705.44Z" fill="#71bc55" stroke="#1e1e1e" stroke-width="0.95" stroke-linejoin="miter"/>
<path d="M97.90 699.34L100.65 705.44L95.15 705.44Z" fill="#71bc55" stroke="#1e1e1e" stroke-width="0.95" stroke-linejoin="miter"/>
<circle cx="104.80" cy="700.29" r="2.72" fill="#71bc55" stroke="#1e1e1e" stroke-width="0.95"/>
<path d="M104.80 701.84L107.55 707.94L102.05 707.94Z" fill="#71bc55" stroke="#1e1e1e" stroke-width="0.95" stroke-linejoin="miter"/>
<path d="M111.70 699.34L114.45 705.44L108.95 705.44Z" fill="#71bc55" stroke="#1e1e1e" stroke-width="0.95" stroke-linejoin="miter"/>
<path d="M119.20 699.34L121.95 705.44L116.45 705.44Z" fill="#71bc55" stroke="#1e1e1e" stroke-width="0.95" stroke-linejoin="miter"/>
<path d="M133.10 699.34L135.85 705.44L130.35 705.44Z" fill="#71bc55" stroke="#1e1e1e" stroke-width="0.95" stroke-linejoin="miter"/>
<circle cx="140.00" cy="702.79" r="2.72" fill="#71bc55" stroke="#1e1e1e" stroke-width="0.95"/>
<path d="M181.80 699.34L184.55 705.44L179.05 705.44Z" fill="#71bc55" stroke="#1e1e1e" stroke-width="0.95" stroke-linejoin="miter"/>
<path d="M47.00 700.54L48.37 700.79L49.10 700.34L49.84 700.79L51.20 700.54L50.05 702.84L51.20 705.14L49.84 704.89L49.10 705.34L48.37 704.89L47.00 705.14L48.15 702.84Z" fill="#633767"/>
<circle cx="110.00" cy="710.31" r="2.72" fill="#71bc55" stroke="#1e1e1e" stroke-width="0.95"/>
<path d="M110.00 711.86L112.75 717.96L107.25 717.96Z" fill="#71bc55" stroke="#1e1e1e" stroke-width="0.95" stroke-linejoin="miter"/>
<polygon points="181.50,709.66 182.47,711.83 184.83,712.08 183.07,713.67 183.56,715.99 181.50,714.81 179.44,715.99 179.93,713.67 178.17,712.08 180.53,711.83" fill="#b8283f" stroke="#1e1e1e" stroke-width="0.8" stroke-linejoin="miter"/>
<path d="M77.10 719.38L79.85 725.48L74.35 725.48Z" fill="#bf283e" stroke="#1e1e1e" stroke-width="0.95" stroke-linejoin="miter"/>
<circle cx="97.90" cy="720.33" r="2.72" fill="#f5bd35" stroke="#1e1e1e" stroke-width="0.95"/>
<path d="M97.90 721.88L100.65 727.98L95.15 727.98Z" fill="#f5bd35" stroke="#1e1e1e" stroke-width="0.95" stroke-linejoin="miter"/>
<circle cx="118.60" cy="722.83" r="2.72" fill="#71bc55" stroke="#1e1e1e" stroke-width="0.95"/>
<path d="M138.50 719.38L141.25 725.48L135.75 725.48Z" fill="#bf283e" stroke="#1e1e1e" stroke-width="0.95" stroke-linejoin="miter"/>
<path d="M147.20 719.38L149.95 725.48L144.45 725.48Z" fill="#bf283e" stroke="#1e1e1e" stroke-width="0.95" stroke-linejoin="miter"/>
<path d="M41.40 720.03H44.00V720.78Q43.06 720.78 43.06 721.73V723.83Q43.06 724.78 44.00 724.78V725.53H41.40V724.78Q42.34 724.78 42.34 723.83V721.73Q42.34 720.78 41.40 720.78Z" fill="#6aaddf"/>
<path d="M47.00 720.58L48.37 720.83L49.10 720.38L49.84 720.83L51.20 720.58L50.05 722.88L51.20 725.18L49.84 724.93L49.10 725.38L48.37 724.93L47.00 725.18L48.15 722.88Z" fill="#633767"/>
<path d="M77.10 729.40L79.85 735.50L74.35 735.50Z" fill="#f5bd35" stroke="#1e1e1e" stroke-width="0.95" stroke-linejoin="miter"/>
<circle cx="99.00" cy="732.85" r="2.72" fill="#71bc55" stroke="#1e1e1e" stroke-width="0.95"/>
<path d="M114.00 729.40L116.75 735.50L111.25 735.50Z" fill="#71bc55" stroke="#1e1e1e" stroke-width="0.95" stroke-linejoin="miter"/>
<path d="M41.40 730.05H44.00V730.80Q43.06 730.80 43.06 731.75V733.85Q43.06 734.80 44.00 734.80V735.55H41.40V734.80Q42.34 734.80 42.34 733.85V731.75Q42.34 730.80 41.40 730.80Z" fill="#6aaddf"/>
<path d="M47.00 730.60L48.37 730.85L49.10 730.40L49.84 730.85L51.20 730.60L50.05 732.90L51.20 735.20L49.84 734.95L49.10 735.40L48.37 734.95L47.00 735.20L48.15 732.90Z" fill="#633767"/>
<polygon points="87.50,737.36 88.59,739.77 91.21,740.06 89.26,741.84 89.79,744.42 87.50,743.11 85.21,744.42 85.74,741.84 83.79,740.06 86.41,739.77" fill="#585e6f"/>
<path d="M87.50 741.91L90.25 748.01L84.75 748.01Z" fill="#71bc55" stroke="#1e1e1e" stroke-width="0.95" stroke-linejoin="miter"/>
<path d="M41.40 740.06H44.00V740.81Q43.06 740.81 43.06 741.76V743.86Q43.06 744.81 44.00 744.81V745.56H41.40V744.81Q42.34 744.81 42.34 743.86V741.76Q42.34 740.81 41.40 740.81Z" fill="#6aaddf"/>
<path d="M47.00 740.61L48.37 740.86L49.10 740.41L49.84 740.86L51.20 740.61L50.05 742.91L51.20 745.21L49.84 744.96L49.10 745.41L48.37 744.96L47.00 745.21L48.15 742.91Z" fill="#633767"/>
<line x1="55.9" y1="8" x2="55.9" y2="754.6" stroke="#4a4a4a" stroke-width="1.7"/>
<line x1="55.0" y1="751.1" x2="492.2" y2="751.1" stroke="#2a2a2a" stroke-width="1.3"/>
<line x1="56.30" y1="751.1" x2="56.30" y2="754.3000000000001" stroke="#2a2a2a" stroke-width="0.9"/>
<text x="55.50" y="765.1" font-size="8.6" text-anchor="middle">0</text>
<line x1="81.20" y1="751.1" x2="81.20" y2="754.3000000000001" stroke="#2a2a2a" stroke-width="0.9"/>
<text x="74.30" y="765.1" font-size="8.6" textLength="14.0" lengthAdjust="spacingAndGlyphs">100</text>
<line x1="106.10" y1="751.1" x2="106.10" y2="754.3000000000001" stroke="#2a2a2a" stroke-width="0.9"/>
<text x="99.20" y="765.1" font-size="8.6" textLength="14.0" lengthAdjust="spacingAndGlyphs">200</text>
<line x1="131.00" y1="751.1" x2="131.00" y2="754.3000000000001" stroke="#2a2a2a" stroke-width="0.9"/>
<text x="124.10" y="765.1" font-size="8.6" textLength="14.0" lengthAdjust="spacingAndGlyphs">300</text>
<line x1="155.90" y1="751.1" x2="155.90" y2="754.3000000000001" stroke="#2a2a2a" stroke-width="0.9"/>
<text x="149.00" y="765.1" font-size="8.6" textLength="14.0" lengthAdjust="spacingAndGlyphs">400</text>
<line x1="180.80" y1="751.1" x2="180.80" y2="754.3000000000001" stroke="#2a2a2a" stroke-width="0.9"/>
<text x="173.90" y="765.1" font-size="8.6" textLength="14.0" lengthAdjust="spacingAndGlyphs">500</text>
<line x1="205.70" y1="751.1" x2="205.70" y2="754.3000000000001" stroke="#2a2a2a" stroke-width="0.9"/>
<text x="198.80" y="765.1" font-size="8.6" textLength="14.0" lengthAdjust="spacingAndGlyphs">600</text>
<line x1="230.60" y1="751.1" x2="230.60" y2="754.3000000000001" stroke="#2a2a2a" stroke-width="0.9"/>
<text x="223.70" y="765.1" font-size="8.6" textLength="14.0" lengthAdjust="spacingAndGlyphs">700</text>
<line x1="255.50" y1="751.1" x2="255.50" y2="754.3000000000001" stroke="#2a2a2a" stroke-width="0.9"/>
<text x="248.60" y="765.1" font-size="8.6" textLength="14.0" lengthAdjust="spacingAndGlyphs">800</text>
<line x1="280.40" y1="751.1" x2="280.40" y2="754.3000000000001" stroke="#2a2a2a" stroke-width="0.9"/>
<text x="273.50" y="765.1" font-size="8.6" textLength="14.0" lengthAdjust="spacingAndGlyphs">900</text>
<line x1="305.30" y1="751.1" x2="305.30" y2="754.3000000000001" stroke="#2a2a2a" stroke-width="0.9"/>
<text x="296.60" y="765.1" font-size="8.6" textLength="17.6" lengthAdjust="spacingAndGlyphs">1000</text>
<line x1="330.20" y1="751.1" x2="330.20" y2="754.3000000000001" stroke="#2a2a2a" stroke-width="0.9"/>
<text x="321.50" y="765.1" font-size="8.6" textLength="17.6" lengthAdjust="spacingAndGlyphs">1100</text>
<line x1="355.10" y1="751.1" x2="355.10" y2="754.3000000000001" stroke="#2a2a2a" stroke-width="0.9"/>
<text x="346.40" y="765.1" font-size="8.6" textLength="17.6" lengthAdjust="spacingAndGlyphs">1200</text>
<line x1="380.00" y1="751.1" x2="380.00" y2="754.3000000000001" stroke="#2a2a2a" stroke-width="0.9"/>
<text x="371.30" y="765.1" font-size="8.6" textLength="17.6" lengthAdjust="spacingAndGlyphs">1300</text>
<line x1="404.90" y1="751.1" x2="404.90" y2="754.3000000000001" stroke="#2a2a2a" stroke-width="0.9"/>
<text x="396.20" y="765.1" font-size="8.6" textLength="17.6" lengthAdjust="spacingAndGlyphs">1400</text>
<line x1="429.80" y1="751.1" x2="429.80" y2="754.3000000000001" stroke="#2a2a2a" stroke-width="0.9"/>
<text x="421.10" y="765.1" font-size="8.6" textLength="17.6" lengthAdjust="spacingAndGlyphs">1500</text>
<line x1="454.70" y1="751.1" x2="454.70" y2="754.3000000000001" stroke="#2a2a2a" stroke-width="0.9"/>
<text x="446.00" y="765.1" font-size="8.6" textLength="17.6" lengthAdjust="spacingAndGlyphs">1600</text>
<line x1="479.60" y1="751.1" x2="479.60" y2="754.3000000000001" stroke="#2a2a2a" stroke-width="0.9"/>
<text x="470.90" y="765.1" font-size="8.6" textLength="17.6" lengthAdjust="spacingAndGlyphs">1700</text>
<text x="251.3" y="779.9" font-size="10.2" textLength="44.2" lengthAdjust="spacingAndGlyphs">Study day</text>
<line x1="28.5" y1="12.0" x2="28.5" y2="322.0" stroke="#000" stroke-width="1.3"/><path d="M28.5 9.0L31.1 14.6L28.5 13.4L25.9 14.6Z" fill="#000"/><path d="M28.5 325.0L31.1 319.4L28.5 320.6L25.9 319.4Z" fill="#000"/>
<line x1="28.5" y1="334.0" x2="28.5" y2="742.4" stroke="#000" stroke-width="1.3"/><path d="M28.5 331.0L31.1 336.6L28.5 335.4L25.9 336.6Z" fill="#000"/><path d="M28.5 745.4L31.1 739.8L28.5 741.0L25.9 739.8Z" fill="#000"/>
<text x="14.3" y="170.1" font-size="9.4" textLength="8.1" lengthAdjust="spacingAndGlyphs" style="fill:#2a2a2a" stroke="#2a2a2a" stroke-width="0.25">1L</text>
<text x="9.0" y="540.9" font-size="9.4" textLength="13.2" lengthAdjust="spacingAndGlyphs" style="fill:#2a2a2a" stroke="#2a2a2a" stroke-width="0.25">R/R</text>
<path d="M417.50 599.27Q418.55 601.35 420.90 602.40Q418.55 603.45 417.50 605.53Q416.45 603.45 414.10 602.40Q416.45 601.35 417.50 599.27Z" fill="#5f3263"/>
<text x="424.8" y="605.1" font-size="8.4" textLength="57.9" lengthAdjust="spacingAndGlyphs" stroke="#231f20" stroke-width="0.12">MRD Conversion</text>
<path d="M417.50 610.75L420.25 616.85L414.75 616.85Z" fill="#bf283e" stroke="#1e1e1e" stroke-width="0.95" stroke-linejoin="miter"/>
<text x="423.8" y="616.6" font-size="8.4" textLength="65.1" lengthAdjust="spacingAndGlyphs" stroke="#231f20" stroke-width="0.12">PB high-level MRD</text>
<path d="M417.50 620.55L420.25 626.65L414.75 626.65Z" fill="#f5bd35" stroke="#1e1e1e" stroke-width="0.95" stroke-linejoin="miter"/>
<text x="423.8" y="626.0" font-size="8.4" textLength="62.3" lengthAdjust="spacingAndGlyphs" stroke="#231f20" stroke-width="0.12">PB low-level MRD</text>
<path d="M417.50 630.35L420.25 636.45L414.75 636.45Z" fill="#71bc55" stroke="#1e1e1e" stroke-width="0.95" stroke-linejoin="miter"/>
<text x="423.8" y="635.7" font-size="8.4" textLength="77.0" lengthAdjust="spacingAndGlyphs" stroke="#231f20" stroke-width="0.12">PB undetectable MRD</text>
<circle cx="417.50" cy="643.90" r="2.72" fill="#bf283e" stroke="#1e1e1e" stroke-width="0.95"/>
<text x="423.8" y="646.0" font-size="8.4" textLength="67.5" lengthAdjust="spacingAndGlyphs" stroke="#231f20" stroke-width="0.12">BM high-level MRD</text>
<circle cx="417.50" cy="653.60" r="2.72" fill="#f5bd35" stroke="#1e1e1e" stroke-width="0.95"/>
<text x="423.8" y="655.7" font-size="8.4" textLength="64.6" lengthAdjust="spacingAndGlyphs" stroke="#231f20" stroke-width="0.12">BM low-level MRD</text>
<circle cx="417.50" cy="663.90" r="2.72" fill="#71bc55" stroke="#1e1e1e" stroke-width="0.95"/>
<text x="423.8" y="665.5" font-size="8.4" textLength="79.8" lengthAdjust="spacingAndGlyphs" stroke="#231f20" stroke-width="0.12">BM undetectable MRD</text>
<path d="M415.00 678.90L416.62 679.15L417.50 678.70L418.38 679.15L420.00 678.90L418.50 681.80L420.00 684.70L418.38 684.45L417.50 684.90L416.62 684.45L415.00 684.70L416.50 681.80Z" fill="#633767"/>
<text x="423.1" y="684.6" font-size="8.4" textLength="64.9" lengthAdjust="spacingAndGlyphs" stroke="#231f20" stroke-width="0.12">TP53 mut/del(17p)</text>
<path d="M415.90 690.00H419.10V690.75Q417.86 690.75 417.86 691.70V693.50Q417.86 694.45 419.10 694.45V695.20H415.90V694.45Q417.14 694.45 417.14 693.50V691.70Q417.14 690.75 415.90 690.75Z" fill="#6aaddf"/>
<text x="423.1" y="694.6" font-size="8.4" textLength="48.1" lengthAdjust="spacingAndGlyphs" stroke="#231f20" stroke-width="0.12">IGHV non mut</text>
<line x1="415.4" y1="711.7" x2="420.8" y2="711.7" stroke="#8294ad" stroke-width="1.3"/>
<text x="424.6" y="714.1" font-size="8.4" textLength="52.6" lengthAdjust="spacingAndGlyphs" stroke="#231f20" stroke-width="0.12">Time on ven Tx</text>
<line x1="415.4" y1="721.4" x2="420.8" y2="721.4" stroke="#cf7f8a" stroke-width="1.3"/>
<text x="424.6" y="723.8" font-size="8.4" textLength="49.2" lengthAdjust="spacingAndGlyphs" stroke="#231f20" stroke-width="0.12">Time on study</text>
<polygon points="417.50,728.05 418.59,730.45 421.21,730.74 419.26,732.52 419.79,735.11 417.50,733.80 415.21,735.11 415.74,732.52 413.79,730.74 416.41,730.45" fill="#585e6f"/>
<text x="424.6" y="733.8" font-size="8.4" textLength="10.0" lengthAdjust="spacingAndGlyphs" stroke="#231f20" stroke-width="0.12">PD</text>
<polygon points="417.50,737.75 418.47,739.92 420.83,740.17 419.07,741.76 419.56,744.08 417.50,742.90 415.44,744.08 415.93,741.76 414.17,740.17 416.53,739.92" fill="#b8283f" stroke="#1e1e1e" stroke-width="0.8" stroke-linejoin="miter"/>
<text x="424.6" y="744.1" font-size="8.4" textLength="21.1" lengthAdjust="spacingAndGlyphs" stroke="#231f20" stroke-width="0.12">Death</text>
<rect x="0" y="0" width="520" height="2" fill="#5a5a5a"/>
<rect x="518" y="0" width="2" height="791" fill="#5f5f5f"/>
<rect x="0" y="1" width="1.1" height="790" fill="#000"/>
<rect x="0" y="789.9" width="519" height="1.1" fill="#000"/>
</svg></body></html>
